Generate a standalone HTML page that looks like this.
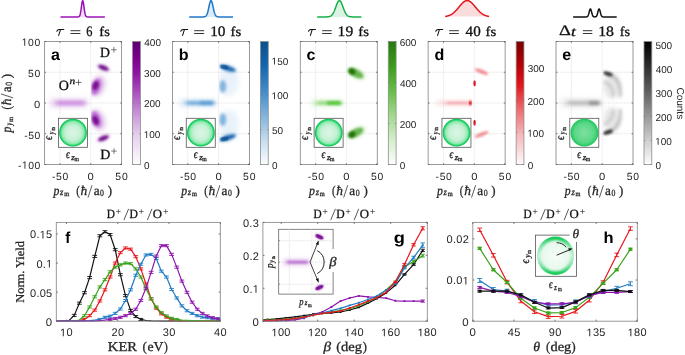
<!DOCTYPE html>
<html><head><meta charset="utf-8"><style>html,body{margin:0;padding:0;background:#fff;width:685px;height:355px;overflow:hidden}svg{display:block;text-rendering:geometricPrecision;will-change:transform}</style></head><body>
<svg width="685" height="355" viewBox="0 0 685 355"><defs>
<linearGradient id="cma" x1="0" y1="0" x2="0" y2="1"><stop offset="0" stop-color="#5c0072"/><stop offset="0.13" stop-color="#7d008f"/><stop offset="0.25" stop-color="#9010a6"/><stop offset="0.38" stop-color="#a540bb"/><stop offset="0.5" stop-color="#ba72cc"/><stop offset="0.63" stop-color="#d0a2de"/><stop offset="0.75" stop-color="#e5caed"/><stop offset="0.88" stop-color="#f3e6f6"/><stop offset="1" stop-color="#fefcfe"/></linearGradient>
<linearGradient id="cmb" x1="0" y1="0" x2="0" y2="1"><stop offset="0" stop-color="#08508f"/><stop offset="0.2" stop-color="#1267b0"/><stop offset="0.4" stop-color="#3f8bcb"/><stop offset="0.6" stop-color="#80b4dd"/><stop offset="0.8" stop-color="#c4dcef"/><stop offset="1" stop-color="#fbfdfe"/></linearGradient>
<linearGradient id="cmc" x1="0" y1="0" x2="0" y2="1"><stop offset="0" stop-color="#28780c"/><stop offset="0.2" stop-color="#3a9d1a"/><stop offset="0.4" stop-color="#66bd46"/><stop offset="0.6" stop-color="#a0d88c"/><stop offset="0.8" stop-color="#d4eecb"/><stop offset="1" stop-color="#fcfefb"/></linearGradient>
<linearGradient id="cmd" x1="0" y1="0" x2="0" y2="1"><stop offset="0" stop-color="#780000"/><stop offset="0.2" stop-color="#bb0008"/><stop offset="0.35" stop-color="#e3131a"/><stop offset="0.55" stop-color="#ee6a6e"/><stop offset="0.75" stop-color="#f6b4b6"/><stop offset="1" stop-color="#fefafa"/></linearGradient>
<linearGradient id="cme" x1="0" y1="0" x2="0" y2="1"><stop offset="0" stop-color="#000000"/><stop offset="0.2" stop-color="#2e2e2e"/><stop offset="0.4" stop-color="#5e5e5e"/><stop offset="0.6" stop-color="#969696"/><stop offset="0.8" stop-color="#cdcdcd"/><stop offset="1" stop-color="#fdfdfd"/></linearGradient>
<filter id="bl0_5" x="-60%" y="-60%" width="220%" height="220%"><feGaussianBlur stdDeviation="0.5"/></filter>
<filter id="bl0_6" x="-60%" y="-60%" width="220%" height="220%"><feGaussianBlur stdDeviation="0.6"/></filter>
<filter id="bl0_7" x="-60%" y="-60%" width="220%" height="220%"><feGaussianBlur stdDeviation="0.7"/></filter>
<filter id="bl0_8" x="-60%" y="-60%" width="220%" height="220%"><feGaussianBlur stdDeviation="0.8"/></filter>
<filter id="bl0_9" x="-60%" y="-60%" width="220%" height="220%"><feGaussianBlur stdDeviation="0.9"/></filter>
<filter id="bl1_0" x="-60%" y="-60%" width="220%" height="220%"><feGaussianBlur stdDeviation="1.0"/></filter>
<filter id="bl1_2" x="-60%" y="-60%" width="220%" height="220%"><feGaussianBlur stdDeviation="1.2"/></filter>
<filter id="bl1_4" x="-60%" y="-60%" width="220%" height="220%"><feGaussianBlur stdDeviation="1.4"/></filter>
<filter id="bl1_6" x="-60%" y="-60%" width="220%" height="220%"><feGaussianBlur stdDeviation="1.6"/></filter>
<filter id="bl2_2" x="-60%" y="-60%" width="220%" height="220%"><feGaussianBlur stdDeviation="2.2"/></filter>
<filter id="bl3_0" x="-60%" y="-60%" width="220%" height="220%"><feGaussianBlur stdDeviation="3.0"/></filter>
<radialGradient id="ring" cx="0.5" cy="0.5" r="0.5"><stop offset="0" stop-color="#dcf6e6"/><stop offset="0.55" stop-color="#c6f1d6"/><stop offset="0.8" stop-color="#8eeab0"/><stop offset="0.91" stop-color="#2cd46e"/><stop offset="1" stop-color="#02bc4c"/></radialGradient>
<radialGradient id="ringe" cx="0.5" cy="0.5" r="0.5"><stop offset="0" stop-color="#7ee0a0"/><stop offset="0.7" stop-color="#5ad888"/><stop offset="0.92" stop-color="#30cc68"/><stop offset="1" stop-color="#18bf55"/></radialGradient>
<filter id="fb2p6_2p6" x="-100%" y="-100%" width="300%" height="300%"><feGaussianBlur stdDeviation="2.6 2.6"/></filter><filter id="fb2p4_1p8" x="-100%" y="-100%" width="300%" height="300%"><feGaussianBlur stdDeviation="2.4 1.8"/></filter><filter id="fb2p2" x="-100%" y="-100%" width="300%" height="300%"><feGaussianBlur stdDeviation="2.2"/></filter><filter id="fb1p6" x="-100%" y="-100%" width="300%" height="300%"><feGaussianBlur stdDeviation="1.6"/></filter><filter id="fb1p3" x="-100%" y="-100%" width="300%" height="300%"><feGaussianBlur stdDeviation="1.3"/></filter><filter id="fb1p0" x="-100%" y="-100%" width="300%" height="300%"><feGaussianBlur stdDeviation="1.0"/></filter><filter id="fb1p4" x="-100%" y="-100%" width="300%" height="300%"><feGaussianBlur stdDeviation="1.4"/></filter><filter id="fb0p8" x="-100%" y="-100%" width="300%" height="300%"><feGaussianBlur stdDeviation="0.8"/></filter><filter id="fb2p2_1p6" x="-100%" y="-100%" width="300%" height="300%"><feGaussianBlur stdDeviation="2.2 1.6"/></filter><filter id="fb1p6_1p4" x="-100%" y="-100%" width="300%" height="300%"><feGaussianBlur stdDeviation="1.6 1.4"/></filter><filter id="fb2p5" x="-100%" y="-100%" width="300%" height="300%"><feGaussianBlur stdDeviation="2.5"/></filter><filter id="fb0p7" x="-100%" y="-100%" width="300%" height="300%"><feGaussianBlur stdDeviation="0.7"/></filter><filter id="fb2p6_2p4" x="-100%" y="-100%" width="300%" height="300%"><feGaussianBlur stdDeviation="2.6 2.4"/></filter><filter id="fb2p6_1p5" x="-100%" y="-100%" width="300%" height="300%"><feGaussianBlur stdDeviation="2.6 1.5"/></filter><filter id="fb1p6_1p3" x="-100%" y="-100%" width="300%" height="300%"><feGaussianBlur stdDeviation="1.6 1.3"/></filter><filter id="fb1p8" x="-100%" y="-100%" width="300%" height="300%"><feGaussianBlur stdDeviation="1.8"/></filter><filter id="fb1p2" x="-100%" y="-100%" width="300%" height="300%"><feGaussianBlur stdDeviation="1.2"/></filter><filter id="fb2p6_2p0" x="-100%" y="-100%" width="300%" height="300%"><feGaussianBlur stdDeviation="2.6 2.0"/></filter><filter id="fb2p0_1p2" x="-100%" y="-100%" width="300%" height="300%"><feGaussianBlur stdDeviation="2.0 1.2"/></filter><filter id="fb0p7_0p8" x="-100%" y="-100%" width="300%" height="300%"><feGaussianBlur stdDeviation="0.7 0.8"/></filter><filter id="fb0p5" x="-100%" y="-100%" width="300%" height="300%"><feGaussianBlur stdDeviation="0.5"/></filter><filter id="fb3_2p6" x="-100%" y="-100%" width="300%" height="300%"><feGaussianBlur stdDeviation="3 2.6"/></filter><filter id="fb2p4_1p6" x="-100%" y="-100%" width="300%" height="300%"><feGaussianBlur stdDeviation="2.4 1.6"/></filter><filter id="fb2p6" x="-100%" y="-100%" width="300%" height="300%"><feGaussianBlur stdDeviation="2.6"/></filter><filter id="fb0p9" x="-100%" y="-100%" width="300%" height="300%"><feGaussianBlur stdDeviation="0.9"/></filter><filter id="fb2p2_2p0" x="-100%" y="-100%" width="300%" height="300%"><feGaussianBlur stdDeviation="2.2 2.0"/></filter><filter id="fb1p8_1p2" x="-100%" y="-100%" width="300%" height="300%"><feGaussianBlur stdDeviation="1.8 1.2"/></filter>
<radialGradient id="ringh" cx="0.5" cy="0.5" r="0.5"><stop offset="0" stop-color="#f6fdf8"/><stop offset="0.75" stop-color="#e6f8ec"/><stop offset="1" stop-color="#bdeecf"/></radialGradient>
<linearGradient id="ringv" x1="0" y1="0" x2="0" y2="1"><stop offset="0" stop-color="#08c850" stop-opacity="1"/><stop offset="0.22" stop-color="#30d470" stop-opacity="0.5"/><stop offset="0.5" stop-color="#60dc90" stop-opacity="0.08"/><stop offset="0.78" stop-color="#30d470" stop-opacity="0.5"/><stop offset="1" stop-color="#08c850" stop-opacity="1"/></linearGradient>
</defs>
<line x1="59.98" y1="41.5" x2="59.98" y2="164.5" stroke="#dedede" stroke-width="0.7" stroke-dasharray="1.3,0.7"/>
<line x1="90.72" y1="41.5" x2="90.72" y2="164.5" stroke="#dedede" stroke-width="0.7" stroke-dasharray="1.3,0.7"/>
<line x1="44.6" y1="72.25" x2="121.6" y2="72.25" stroke="#dedede" stroke-width="0.7" stroke-dasharray="1.3,0.7"/>
<line x1="44.6" y1="103" x2="121.6" y2="103" stroke="#dedede" stroke-width="0.7" stroke-dasharray="1.3,0.7"/>
<line x1="44.6" y1="133.75" x2="121.6" y2="133.75" stroke="#dedede" stroke-width="0.7" stroke-dasharray="1.3,0.7"/>
<clipPath id="rh0"><rect x="91.12" y="41.5" width="30.48" height="123"/></clipPath>
<rect x="50" y="98.4" width="37" height="9.2" fill="#e4caee" fill-opacity="0.65" filter="url(#fb2p6_2p6)"/>
<rect x="56" y="100.4" width="29" height="5.2" fill="#c06cd8" fill-opacity="0.62" filter="url(#fb2p4_1p8)"/>
<g clip-path="url(#rh0)">
<ellipse cx="98" cy="86" rx="8" ry="11.5" fill="#dcb8e8" fill-opacity="0.5" filter="url(#fb2p2)" transform="rotate(22 98 86)"/>
<ellipse cx="96.8" cy="86.5" rx="5.6" ry="9.5" fill="#c07ad6" fill-opacity="0.5" filter="url(#fb1p6)" transform="rotate(22 96.8 86.5)"/>
<ellipse cx="96" cy="86.8" rx="4" ry="8" fill="#a83cc4" fill-opacity="0.55" filter="url(#fb1p3)" transform="rotate(18 96 86.8)"/>
<ellipse cx="95.6" cy="85.6" rx="2.9" ry="4.6" fill="#6a0085" fill-opacity="0.85" filter="url(#fb1p0)" transform="rotate(20 95.6 85.6)"/>
<ellipse cx="103.4" cy="67.8" rx="7.5" ry="3.4" fill="#b868cc" fill-opacity="0.35" filter="url(#fb1p4)" transform="rotate(22 103.4 67.8)"/>
<ellipse cx="103.4" cy="67.8" rx="5.6" ry="2.2" fill="#64007e" fill-opacity="0.9" filter="url(#fb0p8)" transform="rotate(22 103.4 67.8)"/>
<ellipse cx="98" cy="120" rx="8" ry="11.5" fill="#dcb8e8" fill-opacity="0.5" filter="url(#fb2p2)" transform="rotate(-22 98 120)"/>
<ellipse cx="96.8" cy="119.5" rx="5.6" ry="9.5" fill="#c07ad6" fill-opacity="0.5" filter="url(#fb1p6)" transform="rotate(-22 96.8 119.5)"/>
<ellipse cx="96" cy="119.2" rx="4" ry="8" fill="#a83cc4" fill-opacity="0.55" filter="url(#fb1p3)" transform="rotate(-18 96 119.2)"/>
<ellipse cx="95.6" cy="120.4" rx="2.9" ry="4.6" fill="#6a0085" fill-opacity="0.85" filter="url(#fb1p0)" transform="rotate(-20 95.6 120.4)"/>
<ellipse cx="103.4" cy="138.2" rx="7.5" ry="3.4" fill="#b868cc" fill-opacity="0.35" filter="url(#fb1p4)" transform="rotate(-22 103.4 138.2)"/>
<ellipse cx="103.4" cy="138.2" rx="5.6" ry="2.2" fill="#64007e" fill-opacity="0.9" filter="url(#fb0p8)" transform="rotate(-22 103.4 138.2)"/>
</g>
<rect x="58.4" y="118.3" width="29" height="29" fill="#fff" stroke="#555" stroke-width="0.8"/>
<circle cx="73" cy="132.7" r="13.9" fill="url(#ring)"/>
<text x="65.92" y="158.4" font-family="Liberation Serif" font-size="12" font-style="italic" stroke="#262626" stroke-width="0.3" fill="#262626" textLength="3.78" lengthAdjust="spacingAndGlyphs">ϵ</text>
<text x="71.3" y="159.6" font-family="Liberation Serif" font-size="8.5" font-style="italic" stroke="#262626" stroke-width="0.3" fill="#262626" textLength="3.52" lengthAdjust="spacingAndGlyphs">z</text>
<text x="74.38" y="160.7" font-family="Liberation Serif" font-size="6.5" stroke="#262626" stroke-width="0.3" fill="#262626" textLength="4.41" lengthAdjust="spacingAndGlyphs">m</text>
<g transform="translate(52.4 140) rotate(-90)"><text x="0.01" y="0" font-family="Liberation Serif" font-size="12" font-style="italic" stroke="#262626" stroke-width="0.3" fill="#262626" textLength="3.98" lengthAdjust="spacingAndGlyphs">ϵ</text><text x="5.79" y="1.6" font-family="Liberation Serif" font-size="8.5" font-style="italic" stroke="#262626" stroke-width="0.3" fill="#262626" textLength="2.61" lengthAdjust="spacingAndGlyphs">y</text><text x="9.51" y="2.5" font-family="Liberation Serif" font-size="6.5" stroke="#262626" stroke-width="0.3" fill="#262626" textLength="3.25" lengthAdjust="spacingAndGlyphs">m</text></g>
<rect x="44.6" y="41.5" width="77" height="123" fill="none" stroke="#8f8f8f" stroke-width="0.9"/>
<line x1="59.98" y1="164.5" x2="59.98" y2="163.1" stroke="#555" stroke-width="0.8"/>
<line x1="59.98" y1="41.5" x2="59.98" y2="42.9" stroke="#555" stroke-width="0.8"/>
<line x1="90.72" y1="164.5" x2="90.72" y2="163.1" stroke="#555" stroke-width="0.8"/>
<line x1="90.72" y1="41.5" x2="90.72" y2="42.9" stroke="#555" stroke-width="0.8"/>
<line x1="121.47" y1="164.5" x2="121.47" y2="163.1" stroke="#555" stroke-width="0.8"/>
<line x1="121.47" y1="41.5" x2="121.47" y2="42.9" stroke="#555" stroke-width="0.8"/>
<line x1="44.6" y1="41.5" x2="46" y2="41.5" stroke="#555" stroke-width="0.8"/>
<line x1="121.6" y1="41.5" x2="120.2" y2="41.5" stroke="#555" stroke-width="0.8"/>
<line x1="44.6" y1="72.25" x2="46" y2="72.25" stroke="#555" stroke-width="0.8"/>
<line x1="121.6" y1="72.25" x2="120.2" y2="72.25" stroke="#555" stroke-width="0.8"/>
<line x1="44.6" y1="103" x2="46" y2="103" stroke="#555" stroke-width="0.8"/>
<line x1="121.6" y1="103" x2="120.2" y2="103" stroke="#555" stroke-width="0.8"/>
<line x1="44.6" y1="133.75" x2="46" y2="133.75" stroke="#555" stroke-width="0.8"/>
<line x1="121.6" y1="133.75" x2="120.2" y2="133.75" stroke="#555" stroke-width="0.8"/>
<line x1="44.6" y1="164.5" x2="46" y2="164.5" stroke="#555" stroke-width="0.8"/>
<line x1="121.6" y1="164.5" x2="120.2" y2="164.5" stroke="#555" stroke-width="0.8"/>

<text x="52.06" y="179.8" font-family="Liberation Sans" font-size="10.4" fill="#262626" textLength="16.16" lengthAdjust="spacing">-50</text>
<text x="87.6" y="179.8" font-family="Liberation Sans" font-size="10.4" fill="#262626" textLength="6.25" lengthAdjust="spacingAndGlyphs">0</text>
<text x="115.26" y="179.8" font-family="Liberation Sans" font-size="10.4" fill="#262626" textLength="12.43" lengthAdjust="spacing">50</text>
<text x="53.39" y="195" font-family="Liberation Serif" font-size="13.5" font-style="italic" stroke="#262626" stroke-width="0.3" fill="#262626" textLength="5.87" lengthAdjust="spacingAndGlyphs">p</text>
<text x="60" y="194.7" font-family="Liberation Serif" font-size="9.5" font-style="italic" stroke="#262626" stroke-width="0.3" fill="#262626" textLength="3.32" lengthAdjust="spacingAndGlyphs">z</text>
<text x="64.17" y="196.3" font-family="Liberation Serif" font-size="7" stroke="#262626" stroke-width="0.3" fill="#262626" textLength="4.93" lengthAdjust="spacingAndGlyphs">m</text>
<text x="76.32" y="195" font-family="Liberation Serif" font-size="13.5" stroke="#262626" stroke-width="0.3" fill="#262626" textLength="3.63" lengthAdjust="spacingAndGlyphs">(</text>
<text x="80.61" y="195" font-family="Liberation Serif" font-size="13.5" font-style="italic" stroke="#262626" stroke-width="0.3" fill="#262626">ħ</text>
<line x1="88" y1="197.6" x2="92" y2="185.3" stroke="#262626" stroke-width="0.75"/>
<text x="93.64" y="195" font-family="Liberation Serif" font-size="13.5" stroke="#262626" stroke-width="0.3" fill="#262626" textLength="5.84" lengthAdjust="spacingAndGlyphs">a</text>
<text x="100.1" y="196.3" font-family="Liberation Serif" font-size="9.5" stroke="#262626" stroke-width="0.3" fill="#262626" textLength="3.89" lengthAdjust="spacingAndGlyphs">0</text>
<text x="107.69" y="195" font-family="Liberation Serif" font-size="13.5" stroke="#262626" stroke-width="0.3" fill="#262626" textLength="4.28" lengthAdjust="spacingAndGlyphs">)</text>
<rect x="132.6" y="41.5" width="7.8" height="123" fill="url(#cma)" stroke="#8c8c8c" stroke-width="0.8"/>
<text x="144.11" y="168.82" font-family="Liberation Sans" font-size="10" fill="#262626">0</text>
<line x1="132.6" y1="164.5" x2="133.8" y2="164.5" stroke="#666" stroke-width="0.6"/>
<line x1="140.4" y1="164.5" x2="139.2" y2="164.5" stroke="#666" stroke-width="0.6"/>
<text x="143.74" y="138.07" font-family="Liberation Sans" font-size="10" fill="#262626"> 00</text><path transform="translate(143.74 138.07) scale(0.00488 -0.00488)" d="M515,0L515,1237L197,1010L197,1180L530,1409L696,1409L696,0Z" fill="#262626"/>
<line x1="132.6" y1="133.75" x2="133.8" y2="133.75" stroke="#666" stroke-width="0.6"/>
<line x1="140.4" y1="133.75" x2="139.2" y2="133.75" stroke="#666" stroke-width="0.6"/>
<text x="144" y="107.32" font-family="Liberation Sans" font-size="10" fill="#262626">200</text>
<line x1="132.6" y1="103" x2="133.8" y2="103" stroke="#666" stroke-width="0.6"/>
<line x1="140.4" y1="103" x2="139.2" y2="103" stroke="#666" stroke-width="0.6"/>
<text x="144.12" y="76.57" font-family="Liberation Sans" font-size="10" fill="#262626">300</text>
<line x1="132.6" y1="72.25" x2="133.8" y2="72.25" stroke="#666" stroke-width="0.6"/>
<line x1="140.4" y1="72.25" x2="139.2" y2="72.25" stroke="#666" stroke-width="0.6"/>
<text x="144.27" y="45.82" font-family="Liberation Sans" font-size="10" fill="#262626">400</text>
<line x1="132.6" y1="41.5" x2="133.8" y2="41.5" stroke="#666" stroke-width="0.6"/>
<line x1="140.4" y1="41.5" x2="139.2" y2="41.5" stroke="#666" stroke-width="0.6"/>
<line x1="187.82" y1="41.5" x2="187.82" y2="164.5" stroke="#dedede" stroke-width="0.7" stroke-dasharray="1.3,0.7"/>
<line x1="218.57" y1="41.5" x2="218.57" y2="164.5" stroke="#dedede" stroke-width="0.7" stroke-dasharray="1.3,0.7"/>
<line x1="172.45" y1="72.25" x2="249.45" y2="72.25" stroke="#dedede" stroke-width="0.7" stroke-dasharray="1.3,0.7"/>
<line x1="172.45" y1="103" x2="249.45" y2="103" stroke="#dedede" stroke-width="0.7" stroke-dasharray="1.3,0.7"/>
<line x1="172.45" y1="133.75" x2="249.45" y2="133.75" stroke="#dedede" stroke-width="0.7" stroke-dasharray="1.3,0.7"/>
<rect x="180" y="99" width="36" height="8" fill="#c4dcf0" fill-opacity="0.6" filter="url(#fb2p6_2p6)"/>
<rect x="186" y="101" width="28" height="4" fill="#4a96d2" fill-opacity="0.7" filter="url(#fb2p2_1p6)"/>
<rect x="200" y="101.2" width="13" height="3.6" fill="#2a7fc4" fill-opacity="0.45" filter="url(#fb1p6_1p4)"/>
<clipPath id="rh1"><rect x="218.97" y="41.5" width="30.48" height="123"/></clipPath>
<g clip-path="url(#rh1)">
<ellipse cx="229" cy="82" rx="10" ry="14" fill="#c8def2" fill-opacity="0.4" filter="url(#fb2p5)"/>
<ellipse cx="222.8" cy="86.5" rx="3.4" ry="6.4" fill="#3d8bcd" fill-opacity="0.6" filter="url(#fb1p4)"/>
<ellipse cx="228" cy="68.6" rx="10" ry="4.5" fill="#a8cbea" fill-opacity="0.45" filter="url(#fb1p6)" transform="rotate(17 228 68.6)"/>
<ellipse cx="227.6" cy="68.3" rx="8.4" ry="2.5" fill="#0b5aa6" fill-opacity="0.88" filter="url(#fb0p8)" transform="rotate(17 227.6 68.3)"/>
<ellipse cx="224.5" cy="67" rx="4" ry="2.2" fill="#08488a" fill-opacity="0.6" filter="url(#fb0p7)" transform="rotate(10 224.5 67)"/>
<ellipse cx="229" cy="124" rx="10" ry="14" fill="#c8def2" fill-opacity="0.4" filter="url(#fb2p5)"/>
<ellipse cx="222.8" cy="119.5" rx="3.4" ry="6.4" fill="#3d8bcd" fill-opacity="0.6" filter="url(#fb1p4)"/>
<ellipse cx="228" cy="137.4" rx="10" ry="4.5" fill="#a8cbea" fill-opacity="0.45" filter="url(#fb1p6)" transform="rotate(-17 228 137.4)"/>
<ellipse cx="227.6" cy="137.7" rx="8.4" ry="2.5" fill="#0b5aa6" fill-opacity="0.88" filter="url(#fb0p8)" transform="rotate(-17 227.6 137.7)"/>
<ellipse cx="224.5" cy="139" rx="4" ry="2.2" fill="#08488a" fill-opacity="0.6" filter="url(#fb0p7)" transform="rotate(-10 224.5 139)"/>
</g>
<rect x="186.25" y="118.3" width="29" height="29" fill="#fff" stroke="#555" stroke-width="0.8"/>
<circle cx="200.85" cy="132.7" r="13.9" fill="url(#ring)"/>
<text x="193.77" y="158.4" font-family="Liberation Serif" font-size="12" font-style="italic" stroke="#262626" stroke-width="0.3" fill="#262626" textLength="3.78" lengthAdjust="spacingAndGlyphs">ϵ</text>
<text x="199.15" y="159.6" font-family="Liberation Serif" font-size="8.5" font-style="italic" stroke="#262626" stroke-width="0.3" fill="#262626" textLength="3.52" lengthAdjust="spacingAndGlyphs">z</text>
<text x="202.23" y="160.7" font-family="Liberation Serif" font-size="6.5" stroke="#262626" stroke-width="0.3" fill="#262626" textLength="4.41" lengthAdjust="spacingAndGlyphs">m</text>
<g transform="translate(180.25 140) rotate(-90)"><text x="0.01" y="0" font-family="Liberation Serif" font-size="12" font-style="italic" stroke="#262626" stroke-width="0.3" fill="#262626" textLength="3.98" lengthAdjust="spacingAndGlyphs">ϵ</text><text x="5.79" y="1.6" font-family="Liberation Serif" font-size="8.5" font-style="italic" stroke="#262626" stroke-width="0.3" fill="#262626" textLength="2.61" lengthAdjust="spacingAndGlyphs">y</text><text x="9.51" y="2.5" font-family="Liberation Serif" font-size="6.5" stroke="#262626" stroke-width="0.3" fill="#262626" textLength="3.25" lengthAdjust="spacingAndGlyphs">m</text></g>
<rect x="172.45" y="41.5" width="77" height="123" fill="none" stroke="#8f8f8f" stroke-width="0.9"/>
<line x1="187.82" y1="164.5" x2="187.82" y2="163.1" stroke="#555" stroke-width="0.8"/>
<line x1="187.82" y1="41.5" x2="187.82" y2="42.9" stroke="#555" stroke-width="0.8"/>
<line x1="218.57" y1="164.5" x2="218.57" y2="163.1" stroke="#555" stroke-width="0.8"/>
<line x1="218.57" y1="41.5" x2="218.57" y2="42.9" stroke="#555" stroke-width="0.8"/>
<line x1="249.32" y1="164.5" x2="249.32" y2="163.1" stroke="#555" stroke-width="0.8"/>
<line x1="249.32" y1="41.5" x2="249.32" y2="42.9" stroke="#555" stroke-width="0.8"/>
<line x1="172.45" y1="41.5" x2="173.85" y2="41.5" stroke="#555" stroke-width="0.8"/>
<line x1="249.45" y1="41.5" x2="248.05" y2="41.5" stroke="#555" stroke-width="0.8"/>
<line x1="172.45" y1="72.25" x2="173.85" y2="72.25" stroke="#555" stroke-width="0.8"/>
<line x1="249.45" y1="72.25" x2="248.05" y2="72.25" stroke="#555" stroke-width="0.8"/>
<line x1="172.45" y1="103" x2="173.85" y2="103" stroke="#555" stroke-width="0.8"/>
<line x1="249.45" y1="103" x2="248.05" y2="103" stroke="#555" stroke-width="0.8"/>
<line x1="172.45" y1="133.75" x2="173.85" y2="133.75" stroke="#555" stroke-width="0.8"/>
<line x1="249.45" y1="133.75" x2="248.05" y2="133.75" stroke="#555" stroke-width="0.8"/>
<line x1="172.45" y1="164.5" x2="173.85" y2="164.5" stroke="#555" stroke-width="0.8"/>
<line x1="249.45" y1="164.5" x2="248.05" y2="164.5" stroke="#555" stroke-width="0.8"/>

<text x="179.91" y="179.8" font-family="Liberation Sans" font-size="10.4" fill="#262626" textLength="16.16" lengthAdjust="spacing">-50</text>
<text x="215.45" y="179.8" font-family="Liberation Sans" font-size="10.4" fill="#262626" textLength="6.25" lengthAdjust="spacingAndGlyphs">0</text>
<text x="243.11" y="179.8" font-family="Liberation Sans" font-size="10.4" fill="#262626" textLength="12.43" lengthAdjust="spacing">50</text>
<text x="181.24" y="195" font-family="Liberation Serif" font-size="13.5" font-style="italic" stroke="#262626" stroke-width="0.3" fill="#262626" textLength="5.87" lengthAdjust="spacingAndGlyphs">p</text>
<text x="187.85" y="194.7" font-family="Liberation Serif" font-size="9.5" font-style="italic" stroke="#262626" stroke-width="0.3" fill="#262626" textLength="3.32" lengthAdjust="spacingAndGlyphs">z</text>
<text x="192.02" y="196.3" font-family="Liberation Serif" font-size="7" stroke="#262626" stroke-width="0.3" fill="#262626" textLength="4.93" lengthAdjust="spacingAndGlyphs">m</text>
<text x="204.17" y="195" font-family="Liberation Serif" font-size="13.5" stroke="#262626" stroke-width="0.3" fill="#262626" textLength="3.63" lengthAdjust="spacingAndGlyphs">(</text>
<text x="208.46" y="195" font-family="Liberation Serif" font-size="13.5" font-style="italic" stroke="#262626" stroke-width="0.3" fill="#262626">ħ</text>
<line x1="215.85" y1="197.6" x2="219.85" y2="185.3" stroke="#262626" stroke-width="0.75"/>
<text x="221.49" y="195" font-family="Liberation Serif" font-size="13.5" stroke="#262626" stroke-width="0.3" fill="#262626" textLength="5.84" lengthAdjust="spacingAndGlyphs">a</text>
<text x="227.95" y="196.3" font-family="Liberation Serif" font-size="9.5" stroke="#262626" stroke-width="0.3" fill="#262626" textLength="3.89" lengthAdjust="spacingAndGlyphs">0</text>
<text x="235.54" y="195" font-family="Liberation Serif" font-size="13.5" stroke="#262626" stroke-width="0.3" fill="#262626" textLength="4.28" lengthAdjust="spacingAndGlyphs">)</text>
<rect x="260.45" y="41.5" width="7.8" height="123" fill="url(#cmb)" stroke="#8c8c8c" stroke-width="0.8"/>
<text x="271.96" y="168.82" font-family="Liberation Sans" font-size="10" fill="#262626">0</text>
<line x1="260.45" y1="164.5" x2="261.65" y2="164.5" stroke="#666" stroke-width="0.6"/>
<line x1="268.25" y1="164.5" x2="267.05" y2="164.5" stroke="#666" stroke-width="0.6"/>
<text x="271.95" y="134.07" font-family="Liberation Sans" font-size="10" fill="#262626">50</text>
<line x1="260.45" y1="129.75" x2="261.65" y2="129.75" stroke="#666" stroke-width="0.6"/>
<line x1="268.25" y1="129.75" x2="267.05" y2="129.75" stroke="#666" stroke-width="0.6"/>
<text x="271.59" y="99.33" font-family="Liberation Sans" font-size="10" fill="#262626"> 00</text><path transform="translate(271.59 99.33) scale(0.00488 -0.00488)" d="M515,0L515,1237L197,1010L197,1180L530,1409L696,1409L696,0Z" fill="#262626"/>
<line x1="260.45" y1="95.01" x2="261.65" y2="95.01" stroke="#666" stroke-width="0.6"/>
<line x1="268.25" y1="95.01" x2="267.05" y2="95.01" stroke="#666" stroke-width="0.6"/>
<text x="271.59" y="64.58" font-family="Liberation Sans" font-size="10" fill="#262626"> 50</text><path transform="translate(271.59 64.58) scale(0.00488 -0.00488)" d="M515,0L515,1237L197,1010L197,1180L530,1409L696,1409L696,0Z" fill="#262626"/>
<line x1="260.45" y1="60.26" x2="261.65" y2="60.26" stroke="#666" stroke-width="0.6"/>
<line x1="268.25" y1="60.26" x2="267.05" y2="60.26" stroke="#666" stroke-width="0.6"/>
<line x1="315.68" y1="41.5" x2="315.68" y2="164.5" stroke="#dedede" stroke-width="0.7" stroke-dasharray="1.3,0.7"/>
<line x1="346.43" y1="41.5" x2="346.43" y2="164.5" stroke="#dedede" stroke-width="0.7" stroke-dasharray="1.3,0.7"/>
<line x1="300.3" y1="72.25" x2="377.3" y2="72.25" stroke="#dedede" stroke-width="0.7" stroke-dasharray="1.3,0.7"/>
<line x1="300.3" y1="103" x2="377.3" y2="103" stroke="#dedede" stroke-width="0.7" stroke-dasharray="1.3,0.7"/>
<line x1="300.3" y1="133.75" x2="377.3" y2="133.75" stroke="#dedede" stroke-width="0.7" stroke-dasharray="1.3,0.7"/>
<rect x="311" y="99.5" width="31" height="7" fill="#d2f0c8" fill-opacity="0.6" filter="url(#fb2p6_2p4)"/>
<rect x="316" y="101.1" width="25" height="3.8" fill="#78cc5a" fill-opacity="0.7" filter="url(#fb2p6_1p5)"/>
<rect x="327" y="101.2" width="14" height="3.6" fill="#3ec020" fill-opacity="0.75" filter="url(#fb1p6_1p3)"/>
<ellipse cx="356.5" cy="73.5" rx="10.5" ry="5.6" fill="#bfe6b0" fill-opacity="0.5" filter="url(#fb1p8)" transform="rotate(28 356.5 73.5)"/>
<ellipse cx="355.8" cy="73.3" rx="8.2" ry="3.8" fill="#3a9d1a" fill-opacity="0.72" filter="url(#fb1p2)" transform="rotate(28 355.8 73.3)"/>
<ellipse cx="352" cy="71.4" rx="3.6" ry="3" fill="#1b6a06" fill-opacity="0.9" filter="url(#fb0p8)" transform="rotate(28 352 71.4)"/>
<ellipse cx="356.5" cy="132.5" rx="10.5" ry="5.6" fill="#bfe6b0" fill-opacity="0.5" filter="url(#fb1p8)" transform="rotate(-28 356.5 132.5)"/>
<ellipse cx="355.8" cy="132.7" rx="8.2" ry="3.8" fill="#3a9d1a" fill-opacity="0.72" filter="url(#fb1p2)" transform="rotate(-28 355.8 132.7)"/>
<ellipse cx="352" cy="134.6" rx="3.6" ry="3" fill="#1b6a06" fill-opacity="0.9" filter="url(#fb0p8)" transform="rotate(-28 352 134.6)"/>
<rect x="314.1" y="118.3" width="29" height="29" fill="#fff" stroke="#555" stroke-width="0.8"/>
<circle cx="328.7" cy="132.7" r="13.9" fill="url(#ring)"/>
<text x="321.62" y="158.4" font-family="Liberation Serif" font-size="12" font-style="italic" stroke="#262626" stroke-width="0.3" fill="#262626" textLength="3.78" lengthAdjust="spacingAndGlyphs">ϵ</text>
<text x="327" y="159.6" font-family="Liberation Serif" font-size="8.5" font-style="italic" stroke="#262626" stroke-width="0.3" fill="#262626" textLength="3.52" lengthAdjust="spacingAndGlyphs">z</text>
<text x="330.08" y="160.7" font-family="Liberation Serif" font-size="6.5" stroke="#262626" stroke-width="0.3" fill="#262626" textLength="4.41" lengthAdjust="spacingAndGlyphs">m</text>
<g transform="translate(308.1 140) rotate(-90)"><text x="0.01" y="0" font-family="Liberation Serif" font-size="12" font-style="italic" stroke="#262626" stroke-width="0.3" fill="#262626" textLength="3.98" lengthAdjust="spacingAndGlyphs">ϵ</text><text x="5.79" y="1.6" font-family="Liberation Serif" font-size="8.5" font-style="italic" stroke="#262626" stroke-width="0.3" fill="#262626" textLength="2.61" lengthAdjust="spacingAndGlyphs">y</text><text x="9.51" y="2.5" font-family="Liberation Serif" font-size="6.5" stroke="#262626" stroke-width="0.3" fill="#262626" textLength="3.25" lengthAdjust="spacingAndGlyphs">m</text></g>
<rect x="300.3" y="41.5" width="77" height="123" fill="none" stroke="#8f8f8f" stroke-width="0.9"/>
<line x1="315.68" y1="164.5" x2="315.68" y2="163.1" stroke="#555" stroke-width="0.8"/>
<line x1="315.68" y1="41.5" x2="315.68" y2="42.9" stroke="#555" stroke-width="0.8"/>
<line x1="346.43" y1="164.5" x2="346.43" y2="163.1" stroke="#555" stroke-width="0.8"/>
<line x1="346.43" y1="41.5" x2="346.43" y2="42.9" stroke="#555" stroke-width="0.8"/>
<line x1="377.18" y1="164.5" x2="377.18" y2="163.1" stroke="#555" stroke-width="0.8"/>
<line x1="377.18" y1="41.5" x2="377.18" y2="42.9" stroke="#555" stroke-width="0.8"/>
<line x1="300.3" y1="41.5" x2="301.7" y2="41.5" stroke="#555" stroke-width="0.8"/>
<line x1="377.3" y1="41.5" x2="375.9" y2="41.5" stroke="#555" stroke-width="0.8"/>
<line x1="300.3" y1="72.25" x2="301.7" y2="72.25" stroke="#555" stroke-width="0.8"/>
<line x1="377.3" y1="72.25" x2="375.9" y2="72.25" stroke="#555" stroke-width="0.8"/>
<line x1="300.3" y1="103" x2="301.7" y2="103" stroke="#555" stroke-width="0.8"/>
<line x1="377.3" y1="103" x2="375.9" y2="103" stroke="#555" stroke-width="0.8"/>
<line x1="300.3" y1="133.75" x2="301.7" y2="133.75" stroke="#555" stroke-width="0.8"/>
<line x1="377.3" y1="133.75" x2="375.9" y2="133.75" stroke="#555" stroke-width="0.8"/>
<line x1="300.3" y1="164.5" x2="301.7" y2="164.5" stroke="#555" stroke-width="0.8"/>
<line x1="377.3" y1="164.5" x2="375.9" y2="164.5" stroke="#555" stroke-width="0.8"/>

<text x="307.76" y="179.8" font-family="Liberation Sans" font-size="10.4" fill="#262626" textLength="16.16" lengthAdjust="spacing">-50</text>
<text x="343.3" y="179.8" font-family="Liberation Sans" font-size="10.4" fill="#262626" textLength="6.25" lengthAdjust="spacingAndGlyphs">0</text>
<text x="370.96" y="179.8" font-family="Liberation Sans" font-size="10.4" fill="#262626" textLength="12.43" lengthAdjust="spacing">50</text>
<text x="309.09" y="195" font-family="Liberation Serif" font-size="13.5" font-style="italic" stroke="#262626" stroke-width="0.3" fill="#262626" textLength="5.87" lengthAdjust="spacingAndGlyphs">p</text>
<text x="315.7" y="194.7" font-family="Liberation Serif" font-size="9.5" font-style="italic" stroke="#262626" stroke-width="0.3" fill="#262626" textLength="3.32" lengthAdjust="spacingAndGlyphs">z</text>
<text x="319.87" y="196.3" font-family="Liberation Serif" font-size="7" stroke="#262626" stroke-width="0.3" fill="#262626" textLength="4.93" lengthAdjust="spacingAndGlyphs">m</text>
<text x="332.02" y="195" font-family="Liberation Serif" font-size="13.5" stroke="#262626" stroke-width="0.3" fill="#262626" textLength="3.63" lengthAdjust="spacingAndGlyphs">(</text>
<text x="336.31" y="195" font-family="Liberation Serif" font-size="13.5" font-style="italic" stroke="#262626" stroke-width="0.3" fill="#262626">ħ</text>
<line x1="343.7" y1="197.6" x2="347.7" y2="185.3" stroke="#262626" stroke-width="0.75"/>
<text x="349.34" y="195" font-family="Liberation Serif" font-size="13.5" stroke="#262626" stroke-width="0.3" fill="#262626" textLength="5.84" lengthAdjust="spacingAndGlyphs">a</text>
<text x="355.8" y="196.3" font-family="Liberation Serif" font-size="9.5" stroke="#262626" stroke-width="0.3" fill="#262626" textLength="3.89" lengthAdjust="spacingAndGlyphs">0</text>
<text x="363.39" y="195" font-family="Liberation Serif" font-size="13.5" stroke="#262626" stroke-width="0.3" fill="#262626" textLength="4.28" lengthAdjust="spacingAndGlyphs">)</text>
<rect x="388.3" y="41.5" width="7.8" height="123" fill="url(#cmc)" stroke="#8c8c8c" stroke-width="0.8"/>
<text x="399.81" y="168.82" font-family="Liberation Sans" font-size="10" fill="#262626">0</text>
<line x1="388.3" y1="164.5" x2="389.5" y2="164.5" stroke="#666" stroke-width="0.6"/>
<line x1="396.1" y1="164.5" x2="394.9" y2="164.5" stroke="#666" stroke-width="0.6"/>
<text x="399.7" y="127.82" font-family="Liberation Sans" font-size="10" fill="#262626">200</text>
<line x1="388.3" y1="123.5" x2="389.5" y2="123.5" stroke="#666" stroke-width="0.6"/>
<line x1="396.1" y1="123.5" x2="394.9" y2="123.5" stroke="#666" stroke-width="0.6"/>
<text x="399.97" y="86.82" font-family="Liberation Sans" font-size="10" fill="#262626">400</text>
<line x1="388.3" y1="82.5" x2="389.5" y2="82.5" stroke="#666" stroke-width="0.6"/>
<line x1="396.1" y1="82.5" x2="394.9" y2="82.5" stroke="#666" stroke-width="0.6"/>
<text x="399.69" y="45.82" font-family="Liberation Sans" font-size="10" fill="#262626">600</text>
<line x1="388.3" y1="41.5" x2="389.5" y2="41.5" stroke="#666" stroke-width="0.6"/>
<line x1="396.1" y1="41.5" x2="394.9" y2="41.5" stroke="#666" stroke-width="0.6"/>
<line x1="443.52" y1="41.5" x2="443.52" y2="164.5" stroke="#dedede" stroke-width="0.7" stroke-dasharray="1.3,0.7"/>
<line x1="474.27" y1="41.5" x2="474.27" y2="164.5" stroke="#dedede" stroke-width="0.7" stroke-dasharray="1.3,0.7"/>
<line x1="428.15" y1="72.25" x2="505.15" y2="72.25" stroke="#dedede" stroke-width="0.7" stroke-dasharray="1.3,0.7"/>
<line x1="428.15" y1="103" x2="505.15" y2="103" stroke="#dedede" stroke-width="0.7" stroke-dasharray="1.3,0.7"/>
<line x1="428.15" y1="133.75" x2="505.15" y2="133.75" stroke="#dedede" stroke-width="0.7" stroke-dasharray="1.3,0.7"/>
<rect x="437" y="100.4" width="34" height="5.2" fill="#f8cacc" fill-opacity="0.6" filter="url(#fb2p6_2p0)"/>
<rect x="446" y="101.6" width="24" height="2.8" fill="#f08088" fill-opacity="0.55" filter="url(#fb2p0_1p2)"/>
<rect x="468.8" y="101.2" width="3" height="3.6" fill="#d81018" fill-opacity="0.9" filter="url(#fb0p7_0p8)"/>
<ellipse cx="481.5" cy="71.6" rx="7.5" ry="2" fill="#e8454a" fill-opacity="0.6" filter="url(#fb1p0)" transform="rotate(22 481.5 71.6)"/>
<ellipse cx="474.6" cy="83.2" rx="1.2" ry="3" fill="#d5000c" fill-opacity="0.9" filter="url(#fb0p5)"/>
<ellipse cx="474.6" cy="122.8" rx="1.2" ry="3" fill="#d5000c" fill-opacity="0.9" filter="url(#fb0p5)"/>
<ellipse cx="481.5" cy="134.4" rx="7.5" ry="2" fill="#e8454a" fill-opacity="0.6" filter="url(#fb1p0)" transform="rotate(-22 481.5 134.4)"/>
<rect x="441.95" y="118.3" width="29" height="29" fill="#fff" stroke="#555" stroke-width="0.8"/>
<circle cx="456.55" cy="132.7" r="13.9" fill="url(#ring)"/>
<text x="449.47" y="158.4" font-family="Liberation Serif" font-size="12" font-style="italic" stroke="#262626" stroke-width="0.3" fill="#262626" textLength="3.78" lengthAdjust="spacingAndGlyphs">ϵ</text>
<text x="454.85" y="159.6" font-family="Liberation Serif" font-size="8.5" font-style="italic" stroke="#262626" stroke-width="0.3" fill="#262626" textLength="3.52" lengthAdjust="spacingAndGlyphs">z</text>
<text x="457.93" y="160.7" font-family="Liberation Serif" font-size="6.5" stroke="#262626" stroke-width="0.3" fill="#262626" textLength="4.41" lengthAdjust="spacingAndGlyphs">m</text>
<g transform="translate(435.95 140) rotate(-90)"><text x="0.01" y="0" font-family="Liberation Serif" font-size="12" font-style="italic" stroke="#262626" stroke-width="0.3" fill="#262626" textLength="3.98" lengthAdjust="spacingAndGlyphs">ϵ</text><text x="5.79" y="1.6" font-family="Liberation Serif" font-size="8.5" font-style="italic" stroke="#262626" stroke-width="0.3" fill="#262626" textLength="2.61" lengthAdjust="spacingAndGlyphs">y</text><text x="9.51" y="2.5" font-family="Liberation Serif" font-size="6.5" stroke="#262626" stroke-width="0.3" fill="#262626" textLength="3.25" lengthAdjust="spacingAndGlyphs">m</text></g>
<rect x="428.15" y="41.5" width="77" height="123" fill="none" stroke="#8f8f8f" stroke-width="0.9"/>
<line x1="443.52" y1="164.5" x2="443.52" y2="163.1" stroke="#555" stroke-width="0.8"/>
<line x1="443.52" y1="41.5" x2="443.52" y2="42.9" stroke="#555" stroke-width="0.8"/>
<line x1="474.27" y1="164.5" x2="474.27" y2="163.1" stroke="#555" stroke-width="0.8"/>
<line x1="474.27" y1="41.5" x2="474.27" y2="42.9" stroke="#555" stroke-width="0.8"/>
<line x1="505.02" y1="164.5" x2="505.02" y2="163.1" stroke="#555" stroke-width="0.8"/>
<line x1="505.02" y1="41.5" x2="505.02" y2="42.9" stroke="#555" stroke-width="0.8"/>
<line x1="428.15" y1="41.5" x2="429.55" y2="41.5" stroke="#555" stroke-width="0.8"/>
<line x1="505.15" y1="41.5" x2="503.75" y2="41.5" stroke="#555" stroke-width="0.8"/>
<line x1="428.15" y1="72.25" x2="429.55" y2="72.25" stroke="#555" stroke-width="0.8"/>
<line x1="505.15" y1="72.25" x2="503.75" y2="72.25" stroke="#555" stroke-width="0.8"/>
<line x1="428.15" y1="103" x2="429.55" y2="103" stroke="#555" stroke-width="0.8"/>
<line x1="505.15" y1="103" x2="503.75" y2="103" stroke="#555" stroke-width="0.8"/>
<line x1="428.15" y1="133.75" x2="429.55" y2="133.75" stroke="#555" stroke-width="0.8"/>
<line x1="505.15" y1="133.75" x2="503.75" y2="133.75" stroke="#555" stroke-width="0.8"/>
<line x1="428.15" y1="164.5" x2="429.55" y2="164.5" stroke="#555" stroke-width="0.8"/>
<line x1="505.15" y1="164.5" x2="503.75" y2="164.5" stroke="#555" stroke-width="0.8"/>

<text x="435.61" y="179.8" font-family="Liberation Sans" font-size="10.4" fill="#262626" textLength="16.16" lengthAdjust="spacing">-50</text>
<text x="471.15" y="179.8" font-family="Liberation Sans" font-size="10.4" fill="#262626" textLength="6.25" lengthAdjust="spacingAndGlyphs">0</text>
<text x="498.81" y="179.8" font-family="Liberation Sans" font-size="10.4" fill="#262626" textLength="12.43" lengthAdjust="spacing">50</text>
<text x="436.94" y="195" font-family="Liberation Serif" font-size="13.5" font-style="italic" stroke="#262626" stroke-width="0.3" fill="#262626" textLength="5.87" lengthAdjust="spacingAndGlyphs">p</text>
<text x="443.55" y="194.7" font-family="Liberation Serif" font-size="9.5" font-style="italic" stroke="#262626" stroke-width="0.3" fill="#262626" textLength="3.32" lengthAdjust="spacingAndGlyphs">z</text>
<text x="447.72" y="196.3" font-family="Liberation Serif" font-size="7" stroke="#262626" stroke-width="0.3" fill="#262626" textLength="4.93" lengthAdjust="spacingAndGlyphs">m</text>
<text x="459.87" y="195" font-family="Liberation Serif" font-size="13.5" stroke="#262626" stroke-width="0.3" fill="#262626" textLength="3.63" lengthAdjust="spacingAndGlyphs">(</text>
<text x="464.16" y="195" font-family="Liberation Serif" font-size="13.5" font-style="italic" stroke="#262626" stroke-width="0.3" fill="#262626">ħ</text>
<line x1="471.55" y1="197.6" x2="475.55" y2="185.3" stroke="#262626" stroke-width="0.75"/>
<text x="477.19" y="195" font-family="Liberation Serif" font-size="13.5" stroke="#262626" stroke-width="0.3" fill="#262626" textLength="5.84" lengthAdjust="spacingAndGlyphs">a</text>
<text x="483.65" y="196.3" font-family="Liberation Serif" font-size="9.5" stroke="#262626" stroke-width="0.3" fill="#262626" textLength="3.89" lengthAdjust="spacingAndGlyphs">0</text>
<text x="491.24" y="195" font-family="Liberation Serif" font-size="13.5" stroke="#262626" stroke-width="0.3" fill="#262626" textLength="4.28" lengthAdjust="spacingAndGlyphs">)</text>
<rect x="516.15" y="41.5" width="7.8" height="123" fill="url(#cmd)" stroke="#8c8c8c" stroke-width="0.8"/>
<text x="527.66" y="168.82" font-family="Liberation Sans" font-size="10" fill="#262626">0</text>
<line x1="516.15" y1="164.5" x2="517.35" y2="164.5" stroke="#666" stroke-width="0.6"/>
<line x1="523.95" y1="164.5" x2="522.75" y2="164.5" stroke="#666" stroke-width="0.6"/>
<text x="527.29" y="136.71" font-family="Liberation Sans" font-size="10" fill="#262626"> 00</text><path transform="translate(527.29 136.71) scale(0.00488 -0.00488)" d="M515,0L515,1237L197,1010L197,1180L530,1409L696,1409L696,0Z" fill="#262626"/>
<line x1="516.15" y1="132.39" x2="517.35" y2="132.39" stroke="#666" stroke-width="0.6"/>
<line x1="523.95" y1="132.39" x2="522.75" y2="132.39" stroke="#666" stroke-width="0.6"/>
<text x="527.55" y="104.59" font-family="Liberation Sans" font-size="10" fill="#262626">200</text>
<line x1="516.15" y1="100.27" x2="517.35" y2="100.27" stroke="#666" stroke-width="0.6"/>
<line x1="523.95" y1="100.27" x2="522.75" y2="100.27" stroke="#666" stroke-width="0.6"/>
<text x="527.67" y="72.48" font-family="Liberation Sans" font-size="10" fill="#262626">300</text>
<line x1="516.15" y1="68.16" x2="517.35" y2="68.16" stroke="#666" stroke-width="0.6"/>
<line x1="523.95" y1="68.16" x2="522.75" y2="68.16" stroke="#666" stroke-width="0.6"/>
<line x1="571.38" y1="41.5" x2="571.38" y2="164.5" stroke="#dedede" stroke-width="0.7" stroke-dasharray="1.3,0.7"/>
<line x1="602.12" y1="41.5" x2="602.12" y2="164.5" stroke="#dedede" stroke-width="0.7" stroke-dasharray="1.3,0.7"/>
<line x1="556" y1="72.25" x2="633" y2="72.25" stroke="#dedede" stroke-width="0.7" stroke-dasharray="1.3,0.7"/>
<line x1="556" y1="103" x2="633" y2="103" stroke="#dedede" stroke-width="0.7" stroke-dasharray="1.3,0.7"/>
<line x1="556" y1="133.75" x2="633" y2="133.75" stroke="#dedede" stroke-width="0.7" stroke-dasharray="1.3,0.7"/>
<rect x="562" y="98.8" width="39" height="8.4" fill="#d4d4d4" fill-opacity="0.6" filter="url(#fb3_2p6)"/>
<rect x="568" y="101" width="32" height="4" fill="#a4a4a4" fill-opacity="0.6" filter="url(#fb2p4_1p6)"/>
<rect x="589" y="101.2" width="10.5" height="3.6" fill="#6a6a6a" fill-opacity="0.55" filter="url(#fb1p6_1p4)"/>
<clipPath id="rh4"><rect x="602.52" y="41.5" width="30.48" height="123"/></clipPath>
<g clip-path="url(#rh4)">
<ellipse cx="611.5" cy="86" rx="8.5" ry="12.5" fill="#c0c0c0" fill-opacity="0.38" filter="url(#fb2p6)"/>
<path d="M609,74.5 Q622,79 620,97" stroke="#666" stroke-opacity="0.3" stroke-width="3.8" fill="none" filter="url(#bl1_6)"/>
<path d="M603.5,81.5 Q613,84 613.5,97" stroke="#777" stroke-opacity="0.22" stroke-width="3.4" fill="none" filter="url(#bl1_6)"/>
<ellipse cx="608" cy="73.8" rx="4.8" ry="2.1" fill="#1a1a1a" fill-opacity="0.85" filter="url(#fb0p9)" transform="rotate(18 608 73.8)"/>
<ellipse cx="611.5" cy="120" rx="8.5" ry="12.5" fill="#c0c0c0" fill-opacity="0.38" filter="url(#fb2p6)"/>
<path d="M609,131.5 Q622,127 620,109" stroke="#666" stroke-opacity="0.3" stroke-width="3.8" fill="none" filter="url(#bl1_6)"/>
<path d="M603.5,124.5 Q613,122 613.5,109" stroke="#777" stroke-opacity="0.22" stroke-width="3.4" fill="none" filter="url(#bl1_6)"/>
<ellipse cx="608" cy="132.2" rx="4.8" ry="2.1" fill="#1a1a1a" fill-opacity="0.85" filter="url(#fb0p9)" transform="rotate(-18 608 132.2)"/>
</g>
<rect x="569.8" y="118.3" width="29" height="29" fill="#fff" stroke="#555" stroke-width="0.8"/>
<circle cx="584.4" cy="132.7" r="13.9" fill="url(#ringe)"/>
<text x="577.32" y="158.4" font-family="Liberation Serif" font-size="12" font-style="italic" stroke="#262626" stroke-width="0.3" fill="#262626" textLength="3.78" lengthAdjust="spacingAndGlyphs">ϵ</text>
<text x="582.7" y="159.6" font-family="Liberation Serif" font-size="8.5" font-style="italic" stroke="#262626" stroke-width="0.3" fill="#262626" textLength="3.52" lengthAdjust="spacingAndGlyphs">z</text>
<text x="585.78" y="160.7" font-family="Liberation Serif" font-size="6.5" stroke="#262626" stroke-width="0.3" fill="#262626" textLength="4.41" lengthAdjust="spacingAndGlyphs">m</text>
<g transform="translate(563.8 140) rotate(-90)"><text x="0.01" y="0" font-family="Liberation Serif" font-size="12" font-style="italic" stroke="#262626" stroke-width="0.3" fill="#262626" textLength="3.98" lengthAdjust="spacingAndGlyphs">ϵ</text><text x="5.79" y="1.6" font-family="Liberation Serif" font-size="8.5" font-style="italic" stroke="#262626" stroke-width="0.3" fill="#262626" textLength="2.61" lengthAdjust="spacingAndGlyphs">y</text><text x="9.51" y="2.5" font-family="Liberation Serif" font-size="6.5" stroke="#262626" stroke-width="0.3" fill="#262626" textLength="3.25" lengthAdjust="spacingAndGlyphs">m</text></g>
<rect x="556" y="41.5" width="77" height="123" fill="none" stroke="#8f8f8f" stroke-width="0.9"/>
<line x1="571.38" y1="164.5" x2="571.38" y2="163.1" stroke="#555" stroke-width="0.8"/>
<line x1="571.38" y1="41.5" x2="571.38" y2="42.9" stroke="#555" stroke-width="0.8"/>
<line x1="602.12" y1="164.5" x2="602.12" y2="163.1" stroke="#555" stroke-width="0.8"/>
<line x1="602.12" y1="41.5" x2="602.12" y2="42.9" stroke="#555" stroke-width="0.8"/>
<line x1="632.88" y1="164.5" x2="632.88" y2="163.1" stroke="#555" stroke-width="0.8"/>
<line x1="632.88" y1="41.5" x2="632.88" y2="42.9" stroke="#555" stroke-width="0.8"/>
<line x1="556" y1="41.5" x2="557.4" y2="41.5" stroke="#555" stroke-width="0.8"/>
<line x1="633" y1="41.5" x2="631.6" y2="41.5" stroke="#555" stroke-width="0.8"/>
<line x1="556" y1="72.25" x2="557.4" y2="72.25" stroke="#555" stroke-width="0.8"/>
<line x1="633" y1="72.25" x2="631.6" y2="72.25" stroke="#555" stroke-width="0.8"/>
<line x1="556" y1="103" x2="557.4" y2="103" stroke="#555" stroke-width="0.8"/>
<line x1="633" y1="103" x2="631.6" y2="103" stroke="#555" stroke-width="0.8"/>
<line x1="556" y1="133.75" x2="557.4" y2="133.75" stroke="#555" stroke-width="0.8"/>
<line x1="633" y1="133.75" x2="631.6" y2="133.75" stroke="#555" stroke-width="0.8"/>
<line x1="556" y1="164.5" x2="557.4" y2="164.5" stroke="#555" stroke-width="0.8"/>
<line x1="633" y1="164.5" x2="631.6" y2="164.5" stroke="#555" stroke-width="0.8"/>

<text x="563.46" y="179.8" font-family="Liberation Sans" font-size="10.4" fill="#262626" textLength="16.16" lengthAdjust="spacing">-50</text>
<text x="599" y="179.8" font-family="Liberation Sans" font-size="10.4" fill="#262626" textLength="6.25" lengthAdjust="spacingAndGlyphs">0</text>
<text x="626.66" y="179.8" font-family="Liberation Sans" font-size="10.4" fill="#262626" textLength="12.43" lengthAdjust="spacing">50</text>
<text x="564.79" y="195" font-family="Liberation Serif" font-size="13.5" font-style="italic" stroke="#262626" stroke-width="0.3" fill="#262626" textLength="5.87" lengthAdjust="spacingAndGlyphs">p</text>
<text x="571.4" y="194.7" font-family="Liberation Serif" font-size="9.5" font-style="italic" stroke="#262626" stroke-width="0.3" fill="#262626" textLength="3.32" lengthAdjust="spacingAndGlyphs">z</text>
<text x="575.57" y="196.3" font-family="Liberation Serif" font-size="7" stroke="#262626" stroke-width="0.3" fill="#262626" textLength="4.93" lengthAdjust="spacingAndGlyphs">m</text>
<text x="587.72" y="195" font-family="Liberation Serif" font-size="13.5" stroke="#262626" stroke-width="0.3" fill="#262626" textLength="3.63" lengthAdjust="spacingAndGlyphs">(</text>
<text x="592.01" y="195" font-family="Liberation Serif" font-size="13.5" font-style="italic" stroke="#262626" stroke-width="0.3" fill="#262626">ħ</text>
<line x1="599.4" y1="197.6" x2="603.4" y2="185.3" stroke="#262626" stroke-width="0.75"/>
<text x="605.04" y="195" font-family="Liberation Serif" font-size="13.5" stroke="#262626" stroke-width="0.3" fill="#262626" textLength="5.84" lengthAdjust="spacingAndGlyphs">a</text>
<text x="611.5" y="196.3" font-family="Liberation Serif" font-size="9.5" stroke="#262626" stroke-width="0.3" fill="#262626" textLength="3.89" lengthAdjust="spacingAndGlyphs">0</text>
<text x="619.09" y="195" font-family="Liberation Serif" font-size="13.5" stroke="#262626" stroke-width="0.3" fill="#262626" textLength="4.28" lengthAdjust="spacingAndGlyphs">)</text>
<rect x="644" y="41.5" width="7.8" height="123" fill="url(#cme)" stroke="#8c8c8c" stroke-width="0.8"/>
<text x="655.51" y="168.82" font-family="Liberation Sans" font-size="10" fill="#262626">0</text>
<line x1="644" y1="164.5" x2="645.2" y2="164.5" stroke="#666" stroke-width="0.6"/>
<line x1="651.8" y1="164.5" x2="650.6" y2="164.5" stroke="#666" stroke-width="0.6"/>
<text x="655.14" y="144.8" font-family="Liberation Sans" font-size="10" fill="#262626"> 00</text><path transform="translate(655.14 144.8) scale(0.00488 -0.00488)" d="M515,0L515,1237L197,1010L197,1180L530,1409L696,1409L696,0Z" fill="#262626"/>
<line x1="644" y1="140.48" x2="645.2" y2="140.48" stroke="#666" stroke-width="0.6"/>
<line x1="651.8" y1="140.48" x2="650.6" y2="140.48" stroke="#666" stroke-width="0.6"/>
<text x="655.4" y="120.77" font-family="Liberation Sans" font-size="10" fill="#262626">200</text>
<line x1="644" y1="116.45" x2="645.2" y2="116.45" stroke="#666" stroke-width="0.6"/>
<line x1="651.8" y1="116.45" x2="650.6" y2="116.45" stroke="#666" stroke-width="0.6"/>
<text x="655.52" y="96.75" font-family="Liberation Sans" font-size="10" fill="#262626">300</text>
<line x1="644" y1="92.43" x2="645.2" y2="92.43" stroke="#666" stroke-width="0.6"/>
<line x1="651.8" y1="92.43" x2="650.6" y2="92.43" stroke="#666" stroke-width="0.6"/>
<text x="655.67" y="72.73" font-family="Liberation Sans" font-size="10" fill="#262626">400</text>
<line x1="644" y1="68.41" x2="645.2" y2="68.41" stroke="#666" stroke-width="0.6"/>
<line x1="651.8" y1="68.41" x2="650.6" y2="68.41" stroke="#666" stroke-width="0.6"/>
<text x="655.5" y="48.7" font-family="Liberation Sans" font-size="10" fill="#262626">500</text>
<line x1="644" y1="44.38" x2="645.2" y2="44.38" stroke="#666" stroke-width="0.6"/>
<line x1="651.8" y1="44.38" x2="650.6" y2="44.38" stroke="#666" stroke-width="0.6"/>
<text x="50.9" y="59.7" font-family="Liberation Sans" font-size="16" font-weight="bold" fill="#000">a</text>
<text x="178.75" y="59.7" font-family="Liberation Sans" font-size="16" font-weight="bold" fill="#000">b</text>
<text x="306.6" y="59.7" font-family="Liberation Sans" font-size="16" font-weight="bold" fill="#000">c</text>
<text x="434.45" y="59.7" font-family="Liberation Sans" font-size="16" font-weight="bold" fill="#000">d</text>
<text x="562.3" y="59.7" font-family="Liberation Sans" font-size="16" font-weight="bold" fill="#000">e</text>
<text x="58.63" y="89.5" font-family="Liberation Serif" font-size="14" stroke="#111" stroke-width="0.3" fill="#111">O</text>
<text x="69.4" y="84.3" font-family="Liberation Serif" font-size="9.5" font-style="italic" stroke="#111" stroke-width="0.3" fill="#111" textLength="5.68" lengthAdjust="spacingAndGlyphs">n</text>
<line x1="75.55" y1="82.45" x2="81.55" y2="82.45" stroke="#333" stroke-width="0.7"/>
<line x1="78.55" y1="79.45" x2="78.55" y2="85.45" stroke="#333" stroke-width="0.7"/>
<text x="99.95" y="57.3" font-family="Liberation Serif" font-size="14" stroke="#111" stroke-width="0.3" fill="#111" textLength="10" lengthAdjust="spacingAndGlyphs">D</text>
<line x1="111.1" y1="49.75" x2="116.7" y2="49.75" stroke="#444" stroke-width="0.7"/>
<line x1="113.9" y1="46.95" x2="113.9" y2="52.55" stroke="#444" stroke-width="0.7"/>
<text x="100.2" y="158.6" font-family="Liberation Serif" font-size="14" stroke="#111" stroke-width="0.3" fill="#111">D</text>
<line x1="111.2" y1="151.1" x2="116.8" y2="151.1" stroke="#444" stroke-width="0.7"/>
<line x1="114" y1="148.3" x2="114" y2="153.9" stroke="#444" stroke-width="0.7"/>
<text x="21.66" y="45.72" font-family="Liberation Sans" font-size="10.4" fill="#262626" textLength="18.64" lengthAdjust="spacing"> 00</text><path transform="translate(21.66 45.72) scale(0.00508 -0.00508)" d="M515,0L515,1237L197,1010L197,1180L530,1409L696,1409L696,0Z" fill="#262626"/>
<text x="27.88" y="77.02" font-family="Liberation Sans" font-size="10.4" fill="#262626" textLength="12.43" lengthAdjust="spacing">50</text>
<text x="34.09" y="107.92" font-family="Liberation Sans" font-size="10.4" fill="#262626" textLength="6.25" lengthAdjust="spacingAndGlyphs">0</text>
<text x="24.14" y="139.12" font-family="Liberation Sans" font-size="10.4" fill="#262626" textLength="16.16" lengthAdjust="spacing">-50</text>
<text x="17.9" y="168.72" font-family="Liberation Sans" font-size="10.4" fill="#262626" textLength="22.41" lengthAdjust="spacing">- 00</text><path transform="translate(21.89 168.72) scale(0.00508 -0.00508)" d="M515,0L515,1237L197,1010L197,1180L530,1409L696,1409L696,0Z" fill="#262626"/>
<g transform="translate(10.6 133.5) rotate(-90)"><text x="0.99" y="0" font-family="Liberation Serif" font-size="13.5" font-style="italic" stroke="#262626" stroke-width="0.3" fill="#262626" textLength="5.87" lengthAdjust="spacingAndGlyphs">p</text><text x="8.02" y="1" font-family="Liberation Serif" font-size="9.5" font-style="italic" stroke="#262626" stroke-width="0.3" fill="#262626" textLength="2.77" lengthAdjust="spacingAndGlyphs">y</text><text x="11.77" y="2.3" font-family="Liberation Serif" font-size="7" stroke="#262626" stroke-width="0.3" fill="#262626" textLength="4.93" lengthAdjust="spacingAndGlyphs">m</text><text x="23.92" y="0" font-family="Liberation Serif" font-size="13.5" stroke="#262626" stroke-width="0.3" fill="#262626" textLength="3.63" lengthAdjust="spacingAndGlyphs">(</text><text x="28.21" y="0" font-family="Liberation Serif" font-size="13.5" font-style="italic" stroke="#262626" stroke-width="0.3" fill="#262626">ħ</text><line x1="35.6" y1="2.6" x2="39.6" y2="-9.7" stroke="#262626" stroke-width="0.75"/><text x="41.24" y="0" font-family="Liberation Serif" font-size="13.5" stroke="#262626" stroke-width="0.3" fill="#262626" textLength="5.84" lengthAdjust="spacingAndGlyphs">a</text><text x="47.7" y="1.3" font-family="Liberation Serif" font-size="9.5" stroke="#262626" stroke-width="0.3" fill="#262626" textLength="3.89" lengthAdjust="spacingAndGlyphs">0</text><text x="55.29" y="0" font-family="Liberation Serif" font-size="13.5" stroke="#262626" stroke-width="0.3" fill="#262626" textLength="4.28" lengthAdjust="spacingAndGlyphs">)</text></g>
<g transform="translate(677.4 103.35) rotate(90)"><text x="-15.92" y="0" font-family="Liberation Sans" font-size="10" fill="#262626">Counts</text></g>
<path d="M60.5,16.9 L60.87,16.9 L61.24,16.9 L61.61,16.9 L61.98,16.9 L62.35,16.9 L62.72,16.9 L63.09,16.9 L63.46,16.9 L63.83,16.9 L64.2,16.9 L64.57,16.9 L64.94,16.9 L65.31,16.9 L65.68,16.9 L66.05,16.9 L66.42,16.9 L66.79,16.9 L67.16,16.9 L67.53,16.9 L67.9,16.9 L68.27,16.9 L68.64,16.9 L69.01,16.9 L69.38,16.9 L69.75,16.9 L70.12,16.9 L70.49,16.9 L70.86,16.9 L71.23,16.9 L71.6,16.9 L71.97,16.9 L72.34,16.9 L72.71,16.9 L73.08,16.9 L73.45,16.9 L73.82,16.9 L74.19,16.9 L74.56,16.9 L74.93,16.9 L75.3,16.9 L75.67,16.9 L76.04,16.9 L76.41,16.9 L76.78,16.9 L77.15,16.9 L77.52,16.89 L77.89,16.88 L78.26,16.85 L78.63,16.78 L79,16.62 L79.37,16.29 L79.74,15.68 L80.11,14.66 L80.48,13.11 L80.85,10.98 L81.22,8.37 L81.59,5.58 L81.96,3.04 L82.33,1.25 L82.7,0.6 L83.07,1.25 L83.44,3.04 L83.81,5.58 L84.18,8.37 L84.55,10.98 L84.92,13.11 L85.29,14.66 L85.66,15.68 L86.03,16.29 L86.4,16.62 L86.77,16.78 L87.14,16.85 L87.51,16.88 L87.88,16.89 L88.25,16.9 L88.62,16.9 L88.99,16.9 L89.36,16.9 L89.73,16.9 L90.1,16.9 L90.47,16.9 L90.84,16.9 L91.21,16.9 L91.58,16.9 L91.95,16.9 L92.32,16.9 L92.69,16.9 L93.06,16.9 L93.43,16.9 L93.8,16.9 L94.17,16.9 L94.54,16.9 L94.91,16.9 L95.28,16.9 L95.65,16.9 L96.02,16.9 L96.39,16.9 L96.76,16.9 L97.13,16.9 L97.5,16.9 L97.87,16.9 L98.24,16.9 L98.61,16.9 L98.98,16.9 L99.35,16.9 L99.72,16.9 L100.09,16.9 L100.46,16.9 L100.83,16.9 L101.2,16.9 L101.57,16.9 L101.94,16.9 L102.31,16.9 L102.68,16.9 L103.05,16.9 L103.42,16.9 L103.79,16.9 L104.16,16.9 L104.53,16.9 L104.9,16.9 Z" fill="#f1dcf5" stroke="none"/>
<path d="M60.5,16.9 L60.87,16.9 L61.24,16.9 L61.61,16.9 L61.98,16.9 L62.35,16.9 L62.72,16.9 L63.09,16.9 L63.46,16.9 L63.83,16.9 L64.2,16.9 L64.57,16.9 L64.94,16.9 L65.31,16.9 L65.68,16.9 L66.05,16.9 L66.42,16.9 L66.79,16.9 L67.16,16.9 L67.53,16.9 L67.9,16.9 L68.27,16.9 L68.64,16.9 L69.01,16.9 L69.38,16.9 L69.75,16.9 L70.12,16.9 L70.49,16.9 L70.86,16.9 L71.23,16.9 L71.6,16.9 L71.97,16.9 L72.34,16.9 L72.71,16.9 L73.08,16.9 L73.45,16.9 L73.82,16.9 L74.19,16.9 L74.56,16.9 L74.93,16.9 L75.3,16.9 L75.67,16.9 L76.04,16.9 L76.41,16.9 L76.78,16.9 L77.15,16.9 L77.52,16.89 L77.89,16.88 L78.26,16.85 L78.63,16.78 L79,16.62 L79.37,16.29 L79.74,15.68 L80.11,14.66 L80.48,13.11 L80.85,10.98 L81.22,8.37 L81.59,5.58 L81.96,3.04 L82.33,1.25 L82.7,0.6 L83.07,1.25 L83.44,3.04 L83.81,5.58 L84.18,8.37 L84.55,10.98 L84.92,13.11 L85.29,14.66 L85.66,15.68 L86.03,16.29 L86.4,16.62 L86.77,16.78 L87.14,16.85 L87.51,16.88 L87.88,16.89 L88.25,16.9 L88.62,16.9 L88.99,16.9 L89.36,16.9 L89.73,16.9 L90.1,16.9 L90.47,16.9 L90.84,16.9 L91.21,16.9 L91.58,16.9 L91.95,16.9 L92.32,16.9 L92.69,16.9 L93.06,16.9 L93.43,16.9 L93.8,16.9 L94.17,16.9 L94.54,16.9 L94.91,16.9 L95.28,16.9 L95.65,16.9 L96.02,16.9 L96.39,16.9 L96.76,16.9 L97.13,16.9 L97.5,16.9 L97.87,16.9 L98.24,16.9 L98.61,16.9 L98.98,16.9 L99.35,16.9 L99.72,16.9 L100.09,16.9 L100.46,16.9 L100.83,16.9 L101.2,16.9 L101.57,16.9 L101.94,16.9 L102.31,16.9 L102.68,16.9 L103.05,16.9 L103.42,16.9 L103.79,16.9 L104.16,16.9 L104.53,16.9 L104.9,16.9" fill="none" stroke="#9a12b4" stroke-width="1.5" stroke-linejoin="round"/>
<path d="M189.2,16.9 L189.56,16.9 L189.93,16.9 L190.29,16.9 L190.66,16.9 L191.02,16.9 L191.39,16.9 L191.75,16.9 L192.12,16.9 L192.48,16.9 L192.85,16.9 L193.22,16.9 L193.58,16.9 L193.94,16.9 L194.31,16.9 L194.67,16.9 L195.04,16.9 L195.41,16.9 L195.77,16.9 L196.13,16.9 L196.5,16.9 L196.86,16.9 L197.23,16.9 L197.59,16.9 L197.96,16.9 L198.32,16.9 L198.69,16.9 L199.05,16.9 L199.42,16.9 L199.78,16.9 L200.15,16.9 L200.51,16.9 L200.88,16.9 L201.25,16.9 L201.61,16.9 L201.97,16.9 L202.34,16.9 L202.7,16.89 L203.07,16.89 L203.44,16.88 L203.8,16.85 L204.16,16.82 L204.53,16.76 L204.89,16.66 L205.26,16.51 L205.62,16.28 L205.99,15.95 L206.35,15.49 L206.72,14.86 L207.08,14.03 L207.45,12.99 L207.81,11.74 L208.18,10.28 L208.54,8.67 L208.91,6.97 L209.27,5.27 L209.64,3.68 L210,2.33 L210.37,1.32 L210.73,0.73 L211.1,0.62 L211.47,0.99 L211.83,1.82 L212.19,3.04 L212.56,4.53 L212.93,6.19 L213.29,7.91 L213.66,9.57 L214.02,11.1 L214.38,12.45 L214.75,13.59 L215.12,14.51 L215.48,15.23 L215.84,15.76 L216.21,16.15 L216.57,16.42 L216.94,16.6 L217.31,16.72 L217.67,16.79 L218.03,16.84 L218.4,16.87 L218.76,16.88 L219.13,16.89 L219.5,16.9 L219.86,16.9 L220.22,16.9 L220.59,16.9 L220.95,16.9 L221.32,16.9 L221.69,16.9 L222.05,16.9 L222.41,16.9 L222.78,16.9 L223.14,16.9 L223.51,16.9 L223.88,16.9 L224.24,16.9 L224.6,16.9 L224.97,16.9 L225.33,16.9 L225.7,16.9 L226.06,16.9 L226.43,16.9 L226.8,16.9 L227.16,16.9 L227.53,16.9 L227.89,16.9 L228.25,16.9 L228.62,16.9 L228.99,16.9 L229.35,16.9 L229.72,16.9 L230.08,16.9 L230.44,16.9 L230.81,16.9 L231.18,16.9 L231.54,16.9 L231.91,16.9 L232.27,16.9 L232.63,16.9 L233,16.9 Z" fill="#dcebf7" stroke="none"/>
<path d="M189.2,16.9 L189.56,16.9 L189.93,16.9 L190.29,16.9 L190.66,16.9 L191.02,16.9 L191.39,16.9 L191.75,16.9 L192.12,16.9 L192.48,16.9 L192.85,16.9 L193.22,16.9 L193.58,16.9 L193.94,16.9 L194.31,16.9 L194.67,16.9 L195.04,16.9 L195.41,16.9 L195.77,16.9 L196.13,16.9 L196.5,16.9 L196.86,16.9 L197.23,16.9 L197.59,16.9 L197.96,16.9 L198.32,16.9 L198.69,16.9 L199.05,16.9 L199.42,16.9 L199.78,16.9 L200.15,16.9 L200.51,16.9 L200.88,16.9 L201.25,16.9 L201.61,16.9 L201.97,16.9 L202.34,16.9 L202.7,16.89 L203.07,16.89 L203.44,16.88 L203.8,16.85 L204.16,16.82 L204.53,16.76 L204.89,16.66 L205.26,16.51 L205.62,16.28 L205.99,15.95 L206.35,15.49 L206.72,14.86 L207.08,14.03 L207.45,12.99 L207.81,11.74 L208.18,10.28 L208.54,8.67 L208.91,6.97 L209.27,5.27 L209.64,3.68 L210,2.33 L210.37,1.32 L210.73,0.73 L211.1,0.62 L211.47,0.99 L211.83,1.82 L212.19,3.04 L212.56,4.53 L212.93,6.19 L213.29,7.91 L213.66,9.57 L214.02,11.1 L214.38,12.45 L214.75,13.59 L215.12,14.51 L215.48,15.23 L215.84,15.76 L216.21,16.15 L216.57,16.42 L216.94,16.6 L217.31,16.72 L217.67,16.79 L218.03,16.84 L218.4,16.87 L218.76,16.88 L219.13,16.89 L219.5,16.9 L219.86,16.9 L220.22,16.9 L220.59,16.9 L220.95,16.9 L221.32,16.9 L221.69,16.9 L222.05,16.9 L222.41,16.9 L222.78,16.9 L223.14,16.9 L223.51,16.9 L223.88,16.9 L224.24,16.9 L224.6,16.9 L224.97,16.9 L225.33,16.9 L225.7,16.9 L226.06,16.9 L226.43,16.9 L226.8,16.9 L227.16,16.9 L227.53,16.9 L227.89,16.9 L228.25,16.9 L228.62,16.9 L228.99,16.9 L229.35,16.9 L229.72,16.9 L230.08,16.9 L230.44,16.9 L230.81,16.9 L231.18,16.9 L231.54,16.9 L231.91,16.9 L232.27,16.9 L232.63,16.9 L233,16.9" fill="none" stroke="#1f78c8" stroke-width="1.5" stroke-linejoin="round"/>
<path d="M317.2,16.9 L317.57,16.9 L317.94,16.9 L318.31,16.9 L318.67,16.9 L319.04,16.9 L319.41,16.9 L319.78,16.9 L320.15,16.9 L320.51,16.9 L320.88,16.9 L321.25,16.9 L321.62,16.9 L321.99,16.9 L322.36,16.9 L322.72,16.9 L323.09,16.9 L323.46,16.9 L323.83,16.9 L324.2,16.9 L324.57,16.9 L324.94,16.89 L325.3,16.89 L325.67,16.89 L326.04,16.88 L326.41,16.88 L326.78,16.87 L327.14,16.85 L327.51,16.83 L327.88,16.8 L328.25,16.77 L328.62,16.72 L328.99,16.65 L329.35,16.57 L329.72,16.46 L330.09,16.32 L330.46,16.15 L330.83,15.94 L331.2,15.68 L331.56,15.37 L331.93,15 L332.3,14.57 L332.67,14.06 L333.04,13.48 L333.41,12.82 L333.77,12.09 L334.14,11.29 L334.51,10.42 L334.88,9.49 L335.25,8.52 L335.62,7.52 L335.98,6.51 L336.35,5.51 L336.72,4.54 L337.09,3.63 L337.46,2.81 L337.83,2.08 L338.19,1.49 L338.56,1.03 L338.93,0.74 L339.3,0.61 L339.67,0.65 L340.04,0.85 L340.4,1.22 L340.77,1.74 L341.14,2.4 L341.51,3.17 L341.88,4.04 L342.25,4.98 L342.62,5.96 L342.98,6.97 L343.35,7.98 L343.72,8.97 L344.09,9.92 L344.46,10.82 L344.82,11.66 L345.19,12.43 L345.56,13.13 L345.93,13.75 L346.3,14.3 L346.67,14.77 L347.03,15.18 L347.4,15.52 L347.77,15.81 L348.14,16.04 L348.51,16.24 L348.88,16.39 L349.25,16.51 L349.61,16.61 L349.98,16.68 L350.35,16.74 L350.72,16.78 L351.09,16.82 L351.45,16.84 L351.82,16.86 L352.19,16.87 L352.56,16.88 L352.93,16.89 L353.3,16.89 L353.66,16.89 L354.03,16.9 L354.4,16.9 L354.77,16.9 L355.14,16.9 L355.51,16.9 L355.88,16.9 L356.24,16.9 L356.61,16.9 L356.98,16.9 L357.35,16.9 L357.72,16.9 L358.08,16.9 L358.45,16.9 L358.82,16.9 L359.19,16.9 L359.56,16.9 L359.93,16.9 L360.29,16.9 L360.66,16.9 L361.03,16.9 L361.4,16.9 Z" fill="#dcf3e3" stroke="none"/>
<path d="M317.2,16.9 L317.57,16.9 L317.94,16.9 L318.31,16.9 L318.67,16.9 L319.04,16.9 L319.41,16.9 L319.78,16.9 L320.15,16.9 L320.51,16.9 L320.88,16.9 L321.25,16.9 L321.62,16.9 L321.99,16.9 L322.36,16.9 L322.72,16.9 L323.09,16.9 L323.46,16.9 L323.83,16.9 L324.2,16.9 L324.57,16.9 L324.94,16.89 L325.3,16.89 L325.67,16.89 L326.04,16.88 L326.41,16.88 L326.78,16.87 L327.14,16.85 L327.51,16.83 L327.88,16.8 L328.25,16.77 L328.62,16.72 L328.99,16.65 L329.35,16.57 L329.72,16.46 L330.09,16.32 L330.46,16.15 L330.83,15.94 L331.2,15.68 L331.56,15.37 L331.93,15 L332.3,14.57 L332.67,14.06 L333.04,13.48 L333.41,12.82 L333.77,12.09 L334.14,11.29 L334.51,10.42 L334.88,9.49 L335.25,8.52 L335.62,7.52 L335.98,6.51 L336.35,5.51 L336.72,4.54 L337.09,3.63 L337.46,2.81 L337.83,2.08 L338.19,1.49 L338.56,1.03 L338.93,0.74 L339.3,0.61 L339.67,0.65 L340.04,0.85 L340.4,1.22 L340.77,1.74 L341.14,2.4 L341.51,3.17 L341.88,4.04 L342.25,4.98 L342.62,5.96 L342.98,6.97 L343.35,7.98 L343.72,8.97 L344.09,9.92 L344.46,10.82 L344.82,11.66 L345.19,12.43 L345.56,13.13 L345.93,13.75 L346.3,14.3 L346.67,14.77 L347.03,15.18 L347.4,15.52 L347.77,15.81 L348.14,16.04 L348.51,16.24 L348.88,16.39 L349.25,16.51 L349.61,16.61 L349.98,16.68 L350.35,16.74 L350.72,16.78 L351.09,16.82 L351.45,16.84 L351.82,16.86 L352.19,16.87 L352.56,16.88 L352.93,16.89 L353.3,16.89 L353.66,16.89 L354.03,16.9 L354.4,16.9 L354.77,16.9 L355.14,16.9 L355.51,16.9 L355.88,16.9 L356.24,16.9 L356.61,16.9 L356.98,16.9 L357.35,16.9 L357.72,16.9 L358.08,16.9 L358.45,16.9 L358.82,16.9 L359.19,16.9 L359.56,16.9 L359.93,16.9 L360.29,16.9 L360.66,16.9 L361.03,16.9 L361.4,16.9" fill="none" stroke="#18b04a" stroke-width="1.5" stroke-linejoin="round"/>
<path d="M445.2,16.45 L445.57,16.4 L445.93,16.34 L446.3,16.27 L446.66,16.19 L447.03,16.11 L447.39,16.02 L447.76,15.92 L448.13,15.81 L448.49,15.69 L448.86,15.56 L449.22,15.43 L449.59,15.28 L449.96,15.11 L450.32,14.94 L450.69,14.75 L451.05,14.55 L451.42,14.34 L451.78,14.12 L452.15,13.87 L452.52,13.62 L452.88,13.35 L453.25,13.07 L453.61,12.77 L453.98,12.46 L454.35,12.13 L454.71,11.79 L455.08,11.43 L455.44,11.07 L455.81,10.69 L456.18,10.3 L456.54,9.9 L456.91,9.49 L457.27,9.07 L457.64,8.64 L458,8.21 L458.37,7.77 L458.74,7.33 L459.1,6.89 L459.47,6.45 L459.83,6.01 L460.2,5.58 L460.56,5.15 L460.93,4.73 L461.3,4.32 L461.66,3.92 L462.03,3.54 L462.39,3.17 L462.76,2.82 L463.13,2.49 L463.49,2.18 L463.86,1.9 L464.22,1.64 L464.59,1.41 L464.95,1.2 L465.32,1.02 L465.69,0.88 L466.05,0.76 L466.42,0.67 L466.78,0.62 L467.15,0.6 L467.52,0.61 L467.88,0.66 L468.25,0.73 L468.61,0.84 L468.98,0.98 L469.35,1.15 L469.71,1.35 L470.08,1.57 L470.44,1.83 L470.81,2.1 L471.17,2.41 L471.54,2.73 L471.91,3.07 L472.27,3.44 L472.64,3.82 L473,4.21 L473.37,4.62 L473.74,5.03 L474.1,5.46 L474.47,5.89 L474.83,6.33 L475.2,6.77 L475.56,7.21 L475.93,7.65 L476.3,8.09 L476.66,8.52 L477.03,8.95 L477.39,9.37 L477.76,9.79 L478.12,10.19 L478.49,10.58 L478.86,10.97 L479.22,11.34 L479.59,11.69 L479.95,12.04 L480.32,12.37 L480.69,12.68 L481.05,12.99 L481.42,13.27 L481.78,13.55 L482.15,13.81 L482.52,14.05 L482.88,14.28 L483.25,14.5 L483.61,14.7 L483.98,14.89 L484.34,15.07 L484.71,15.23 L485.08,15.39 L485.44,15.53 L485.81,15.66 L486.17,15.78 L486.54,15.89 L486.91,15.99 L487.27,16.08 L487.64,16.17 L488,16.25 L488.37,16.32 L488.73,16.38 L489.1,16.44 Z" fill="#fbdcdd" stroke="none"/>
<path d="M445.2,16.45 L445.57,16.4 L445.93,16.34 L446.3,16.27 L446.66,16.19 L447.03,16.11 L447.39,16.02 L447.76,15.92 L448.13,15.81 L448.49,15.69 L448.86,15.56 L449.22,15.43 L449.59,15.28 L449.96,15.11 L450.32,14.94 L450.69,14.75 L451.05,14.55 L451.42,14.34 L451.78,14.12 L452.15,13.87 L452.52,13.62 L452.88,13.35 L453.25,13.07 L453.61,12.77 L453.98,12.46 L454.35,12.13 L454.71,11.79 L455.08,11.43 L455.44,11.07 L455.81,10.69 L456.18,10.3 L456.54,9.9 L456.91,9.49 L457.27,9.07 L457.64,8.64 L458,8.21 L458.37,7.77 L458.74,7.33 L459.1,6.89 L459.47,6.45 L459.83,6.01 L460.2,5.58 L460.56,5.15 L460.93,4.73 L461.3,4.32 L461.66,3.92 L462.03,3.54 L462.39,3.17 L462.76,2.82 L463.13,2.49 L463.49,2.18 L463.86,1.9 L464.22,1.64 L464.59,1.41 L464.95,1.2 L465.32,1.02 L465.69,0.88 L466.05,0.76 L466.42,0.67 L466.78,0.62 L467.15,0.6 L467.52,0.61 L467.88,0.66 L468.25,0.73 L468.61,0.84 L468.98,0.98 L469.35,1.15 L469.71,1.35 L470.08,1.57 L470.44,1.83 L470.81,2.1 L471.17,2.41 L471.54,2.73 L471.91,3.07 L472.27,3.44 L472.64,3.82 L473,4.21 L473.37,4.62 L473.74,5.03 L474.1,5.46 L474.47,5.89 L474.83,6.33 L475.2,6.77 L475.56,7.21 L475.93,7.65 L476.3,8.09 L476.66,8.52 L477.03,8.95 L477.39,9.37 L477.76,9.79 L478.12,10.19 L478.49,10.58 L478.86,10.97 L479.22,11.34 L479.59,11.69 L479.95,12.04 L480.32,12.37 L480.69,12.68 L481.05,12.99 L481.42,13.27 L481.78,13.55 L482.15,13.81 L482.52,14.05 L482.88,14.28 L483.25,14.5 L483.61,14.7 L483.98,14.89 L484.34,15.07 L484.71,15.23 L485.08,15.39 L485.44,15.53 L485.81,15.66 L486.17,15.78 L486.54,15.89 L486.91,15.99 L487.27,16.08 L487.64,16.17 L488,16.25 L488.37,16.32 L488.73,16.38 L489.1,16.44" fill="none" stroke="#e3131b" stroke-width="1.5" stroke-linejoin="round"/>
<path d="M573.1,16.9 L573.46,16.9 L573.83,16.9 L574.19,16.9 L574.55,16.9 L574.92,16.9 L575.28,16.9 L575.64,16.9 L576.01,16.9 L576.37,16.9 L576.73,16.9 L577.1,16.9 L577.46,16.9 L577.82,16.9 L578.19,16.9 L578.55,16.9 L578.91,16.9 L579.28,16.9 L579.64,16.9 L580,16.9 L580.37,16.9 L580.73,16.9 L581.09,16.9 L581.46,16.9 L581.82,16.9 L582.18,16.9 L582.55,16.9 L582.91,16.9 L583.27,16.9 L583.64,16.9 L584,16.9 L584.36,16.9 L584.73,16.9 L585.09,16.9 L585.45,16.9 L585.82,16.89 L586.18,16.88 L586.54,16.85 L586.91,16.78 L587.27,16.63 L587.63,16.34 L588,15.82 L588.36,15.01 L588.72,13.89 L589.09,12.5 L589.45,11.05 L589.81,9.8 L590.18,9.04 L590.54,8.95 L590.9,9.57 L591.27,10.74 L591.63,12.17 L591.99,13.59 L592.36,14.78 L592.72,15.67 L593.08,16.24 L593.45,16.58 L593.81,16.76 L594.17,16.84 L594.54,16.87 L594.9,16.88 L595.26,16.85 L595.63,16.78 L595.99,16.62 L596.35,16.32 L596.72,15.79 L597.08,14.96 L597.44,13.82 L597.81,12.42 L598.17,10.98 L598.53,9.74 L598.9,9.01 L599.26,8.97 L599.62,9.63 L599.99,10.81 L600.35,12.25 L600.71,13.66 L601.08,14.84 L601.44,15.7 L601.8,16.27 L602.17,16.59 L602.53,16.77 L602.89,16.85 L603.26,16.88 L603.62,16.89 L603.98,16.9 L604.35,16.9 L604.71,16.9 L605.07,16.9 L605.44,16.9 L605.8,16.9 L606.16,16.9 L606.53,16.9 L606.89,16.9 L607.25,16.9 L607.62,16.9 L607.98,16.9 L608.34,16.9 L608.71,16.9 L609.07,16.9 L609.43,16.9 L609.8,16.9 L610.16,16.9 L610.52,16.9 L610.89,16.9 L611.25,16.9 L611.61,16.9 L611.98,16.9 L612.34,16.9 L612.7,16.9 L613.07,16.9 L613.43,16.9 L613.79,16.9 L614.16,16.9 L614.52,16.9 L614.88,16.9 L615.25,16.9 L615.61,16.9 L615.97,16.9 L616.34,16.9 L616.7,16.9 Z" fill="#ffffff" stroke="none"/>
<path d="M573.1,16.9 L573.46,16.9 L573.83,16.9 L574.19,16.9 L574.55,16.9 L574.92,16.9 L575.28,16.9 L575.64,16.9 L576.01,16.9 L576.37,16.9 L576.73,16.9 L577.1,16.9 L577.46,16.9 L577.82,16.9 L578.19,16.9 L578.55,16.9 L578.91,16.9 L579.28,16.9 L579.64,16.9 L580,16.9 L580.37,16.9 L580.73,16.9 L581.09,16.9 L581.46,16.9 L581.82,16.9 L582.18,16.9 L582.55,16.9 L582.91,16.9 L583.27,16.9 L583.64,16.9 L584,16.9 L584.36,16.9 L584.73,16.9 L585.09,16.9 L585.45,16.9 L585.82,16.89 L586.18,16.88 L586.54,16.85 L586.91,16.78 L587.27,16.63 L587.63,16.34 L588,15.82 L588.36,15.01 L588.72,13.89 L589.09,12.5 L589.45,11.05 L589.81,9.8 L590.18,9.04 L590.54,8.95 L590.9,9.57 L591.27,10.74 L591.63,12.17 L591.99,13.59 L592.36,14.78 L592.72,15.67 L593.08,16.24 L593.45,16.58 L593.81,16.76 L594.17,16.84 L594.54,16.87 L594.9,16.88 L595.26,16.85 L595.63,16.78 L595.99,16.62 L596.35,16.32 L596.72,15.79 L597.08,14.96 L597.44,13.82 L597.81,12.42 L598.17,10.98 L598.53,9.74 L598.9,9.01 L599.26,8.97 L599.62,9.63 L599.99,10.81 L600.35,12.25 L600.71,13.66 L601.08,14.84 L601.44,15.7 L601.8,16.27 L602.17,16.59 L602.53,16.77 L602.89,16.85 L603.26,16.88 L603.62,16.89 L603.98,16.9 L604.35,16.9 L604.71,16.9 L605.07,16.9 L605.44,16.9 L605.8,16.9 L606.16,16.9 L606.53,16.9 L606.89,16.9 L607.25,16.9 L607.62,16.9 L607.98,16.9 L608.34,16.9 L608.71,16.9 L609.07,16.9 L609.43,16.9 L609.8,16.9 L610.16,16.9 L610.52,16.9 L610.89,16.9 L611.25,16.9 L611.61,16.9 L611.98,16.9 L612.34,16.9 L612.7,16.9 L613.07,16.9 L613.43,16.9 L613.79,16.9 L614.16,16.9 L614.52,16.9 L614.88,16.9 L615.25,16.9 L615.61,16.9 L615.97,16.9 L616.34,16.9 L616.7,16.9" fill="none" stroke="#111" stroke-width="1.5" stroke-linejoin="round"/>
<path d="M56.8,31.2 Q57.6,29.6 59.1,29.5 L63.8,29.5 M60.5,29.7 L58.7,35.4" stroke="#111" stroke-width="1.05" fill="none" stroke-linecap="round"/>
<line x1="70.5" y1="30.7" x2="80.4" y2="30.7" stroke="#111" stroke-width="0.85"/>
<line x1="70.5" y1="33.5" x2="80.4" y2="33.5" stroke="#111" stroke-width="0.85"/>
<text x="86.37" y="35.8" font-family="Liberation Serif" font-size="14.5" stroke="#111" stroke-width="0.3" fill="#111" textLength="6.2" lengthAdjust="spacingAndGlyphs">6</text>
<text x="99.35" y="35.8" font-family="Liberation Serif" font-size="13.5" stroke="#111" stroke-width="0.3" fill="#111" textLength="10.47" lengthAdjust="spacingAndGlyphs">fs</text>
<path d="M180.7,31.2 Q181.5,29.6 183,29.5 L187.7,29.5 M184.4,29.7 L182.6,35.4" stroke="#111" stroke-width="1.05" fill="none" stroke-linecap="round"/>
<line x1="194.2" y1="30.7" x2="204.2" y2="30.7" stroke="#111" stroke-width="0.85"/>
<line x1="194.2" y1="33.5" x2="204.2" y2="33.5" stroke="#111" stroke-width="0.85"/>
<text x="210.15" y="35.8" font-family="Liberation Serif" font-size="14.5" stroke="#111" stroke-width="0.3" fill="#111" textLength="15.33" lengthAdjust="spacingAndGlyphs">10</text>
<text x="230.64" y="35.8" font-family="Liberation Serif" font-size="13.5" stroke="#111" stroke-width="0.3" fill="#111" textLength="10.69" lengthAdjust="spacingAndGlyphs">fs</text>
<path d="M308.5,31.2 Q309.3,29.6 310.8,29.5 L315.5,29.5 M312.2,29.7 L310.4,35.4" stroke="#111" stroke-width="1.05" fill="none" stroke-linecap="round"/>
<line x1="322.2" y1="30.7" x2="331.7" y2="30.7" stroke="#111" stroke-width="0.85"/>
<line x1="322.2" y1="33.5" x2="331.7" y2="33.5" stroke="#111" stroke-width="0.85"/>
<text x="337.63" y="35.8" font-family="Liberation Serif" font-size="14.5" stroke="#111" stroke-width="0.3" fill="#111" textLength="15.61" lengthAdjust="spacingAndGlyphs">19</text>
<text x="358.34" y="35.8" font-family="Liberation Serif" font-size="13.5" stroke="#111" stroke-width="0.3" fill="#111" textLength="10.69" lengthAdjust="spacingAndGlyphs">fs</text>
<path d="M435.7,31.2 Q436.5,29.6 438,29.5 L442.7,29.5 M439.4,29.7 L437.6,35.4" stroke="#111" stroke-width="1.05" fill="none" stroke-linecap="round"/>
<line x1="449.2" y1="30.7" x2="458.9" y2="30.7" stroke="#111" stroke-width="0.85"/>
<line x1="449.2" y1="33.5" x2="458.9" y2="33.5" stroke="#111" stroke-width="0.85"/>
<text x="465.61" y="35.8" font-family="Liberation Serif" font-size="14.5" stroke="#111" stroke-width="0.3" fill="#111" textLength="15.07" lengthAdjust="spacingAndGlyphs">40</text>
<text x="485.64" y="35.8" font-family="Liberation Serif" font-size="13.5" stroke="#111" stroke-width="0.3" fill="#111" textLength="10.69" lengthAdjust="spacingAndGlyphs">fs</text>
<text x="558.9" y="35.2" font-family="Liberation Serif" font-size="14.5" stroke="#111" stroke-width="0.3" fill="#111" textLength="11.9" lengthAdjust="spacingAndGlyphs">Δ</text>
<text x="571.04" y="35.8" font-family="Liberation Serif" font-size="13.5" font-style="italic" stroke="#111" stroke-width="0.3" fill="#111" textLength="4.81" lengthAdjust="spacingAndGlyphs">t</text>
<line x1="582.9" y1="30.7" x2="592.3" y2="30.7" stroke="#111" stroke-width="0.85"/>
<line x1="582.9" y1="33.5" x2="592.3" y2="33.5" stroke="#111" stroke-width="0.85"/>
<text x="598.21" y="35.8" font-family="Liberation Serif" font-size="14.5" stroke="#111" stroke-width="0.3" fill="#111" textLength="15.79" lengthAdjust="spacingAndGlyphs">18</text>
<text x="619.66" y="35.8" font-family="Liberation Serif" font-size="13.5" stroke="#111" stroke-width="0.3" fill="#111" textLength="10.36" lengthAdjust="spacingAndGlyphs">fs</text>
<clipPath id="cf"><rect x="56.3" y="222.4" width="164" height="99.8"/></clipPath>
<g clip-path="url(#cf)">
<path d="M56.3,321.2 L58.86,321.2 L63.99,321.2 L69.11,320.39 L74.24,315.39 L79.36,303.18 L84.49,292.72 L89.61,277.61 L94.74,256.4 L99.86,235.77 L104.99,231.7 L110.11,234.6 L115.24,249.72 L120.36,274.71 L125.49,295.63 L130.61,310.39 L135.74,316.55 L140.86,319.46 L145.99,320.5 L151.11,320.91 L156.24,321 L161.36,321.08 L166.49,321.09 L171.61,321.1 L176.74,321.12 L181.86,321.13 L186.99,321.14 L192.11,321.15 L197.24,321.16 L202.36,321.17 L207.49,321.18 L212.61,321.19 L217.74,321.2 L220.3,321.2" fill="none" stroke="#111111" stroke-width="1.2" stroke-linejoin="round"/>
<path d="M74.24,314.34V316.44M71.84,314.34H76.64M71.84,316.44H76.64M79.36,302.13V304.23M76.96,302.13H81.76M76.96,304.23H81.76M84.49,291.67V293.77M82.09,291.67H86.89M82.09,293.77H86.89M89.61,276.56V278.66M87.21,276.56H92.01M87.21,278.66H92.01M94.74,255.35V257.45M92.34,255.35H97.14M92.34,257.45H97.14M99.86,234.72V236.82M97.46,234.72H102.26M97.46,236.82H102.26M104.99,230.65V232.75M102.59,230.65H107.39M102.59,232.75H107.39M110.11,233.55V235.65M107.71,233.55H112.51M107.71,235.65H112.51M115.24,248.67V250.77M112.84,248.67H117.64M112.84,250.77H117.64M120.36,273.66V275.76M117.96,273.66H122.76M117.96,275.76H122.76M125.49,294.58V296.68M123.09,294.58H127.89M123.09,296.68H127.89M130.61,309.34V311.44M128.21,309.34H133.01M128.21,311.44H133.01M135.74,315.5V317.6M133.34,315.5H138.14M133.34,317.6H138.14M140.86,318.41V320.51M138.46,318.41H143.26M138.46,320.51H143.26" stroke="#111111" stroke-width="0.9" fill="none"/>
<path d="M56.3,321.2 L58.86,321.2 L63.99,321.2 L69.11,321.2 L74.24,321.2 L79.36,320.62 L84.49,319.46 L89.61,315.68 L94.74,310.16 L99.86,300.98 L104.99,289.82 L110.11,277.03 L115.24,263.08 L120.36,252.62 L125.49,247.97 L130.61,249.13 L135.74,256.69 L140.86,268.89 L145.99,284 L151.11,298.82 L156.24,308.12 L161.36,313.82 L166.49,317.13 L171.61,319.17 L176.74,320.33 L181.86,320.62 L186.99,320.91 L192.11,320.96 L197.24,321.01 L202.36,321.05 L207.49,321.1 L212.61,321.15 L217.74,321.2 L220.3,321.2" fill="none" stroke="#e8161c" stroke-width="1.2" stroke-linejoin="round"/>
<path d="M84.49,318.41V320.51M82.09,318.41H86.89M82.09,320.51H86.89M89.61,314.63V316.73M87.21,314.63H92.01M87.21,316.73H92.01M94.74,309.11V311.21M92.34,309.11H97.14M92.34,311.21H97.14M99.86,299.93V302.03M97.46,299.93H102.26M97.46,302.03H102.26M104.99,288.77V290.87M102.59,288.77H107.39M102.59,290.87H107.39M110.11,275.98V278.08M107.71,275.98H112.51M107.71,278.08H112.51M115.24,262.03V264.13M112.84,262.03H117.64M112.84,264.13H117.64M120.36,251.57V253.67M117.96,251.57H122.76M117.96,253.67H122.76M125.49,246.92V249.02M123.09,246.92H127.89M123.09,249.02H127.89M130.61,248.08V250.18M128.21,248.08H133.01M128.21,250.18H133.01M135.74,255.64V257.74M133.34,255.64H138.14M133.34,257.74H138.14M140.86,267.84V269.94M138.46,267.84H143.26M138.46,269.94H143.26M145.99,282.95V285.05M143.59,282.95H148.39M143.59,285.05H148.39M151.11,297.77V299.87M148.71,297.77H153.51M148.71,299.87H153.51M156.24,307.07V309.17M153.84,307.07H158.64M153.84,309.17H158.64M161.36,312.77V314.87M158.96,312.77H163.76M158.96,314.87H163.76M166.49,316.08V318.18M164.09,316.08H168.89M164.09,318.18H168.89M171.61,318.12V320.22M169.21,318.12H174.01M169.21,320.22H174.01" stroke="#e8161c" stroke-width="0.9" fill="none"/>
<path d="M56.3,321.2 L58.86,321.2 L63.99,321.2 L69.11,321.2 L74.24,321.2 L79.36,320.04 L84.49,315.68 L89.61,306.9 L94.74,296.79 L99.86,286.91 L104.99,279.59 L110.11,271.8 L115.24,267.15 L120.36,264.83 L125.49,263.08 L130.61,263.66 L135.74,268.89 L140.86,277.03 L145.99,288.65 L151.11,298.82 L156.24,307.02 L161.36,312.71 L166.49,315.97 L171.61,318.29 L176.74,319.46 L181.86,320.04 L186.99,320.33 L192.11,320.62 L197.24,320.68 L202.36,320.74 L207.49,320.79 L212.61,320.85 L217.74,320.91 L220.3,320.91" fill="none" stroke="#3aa31a" stroke-width="1.2" stroke-linejoin="round"/>
<path d="M84.49,314.63V316.73M82.09,314.63H86.89M82.09,316.73H86.89M89.61,305.85V307.95M87.21,305.85H92.01M87.21,307.95H92.01M94.74,295.74V297.84M92.34,295.74H97.14M92.34,297.84H97.14M99.86,285.86V287.96M97.46,285.86H102.26M97.46,287.96H102.26M104.99,278.54V280.64M102.59,278.54H107.39M102.59,280.64H107.39M110.11,270.75V272.85M107.71,270.75H112.51M107.71,272.85H112.51M115.24,266.1V268.2M112.84,266.1H117.64M112.84,268.2H117.64M120.36,263.78V265.88M117.96,263.78H122.76M117.96,265.88H122.76M125.49,262.03V264.13M123.09,262.03H127.89M123.09,264.13H127.89M130.61,262.61V264.71M128.21,262.61H133.01M128.21,264.71H133.01M135.74,267.84V269.94M133.34,267.84H138.14M133.34,269.94H138.14M140.86,275.98V278.08M138.46,275.98H143.26M138.46,278.08H143.26M145.99,287.6V289.7M143.59,287.6H148.39M143.59,289.7H148.39M151.11,297.77V299.87M148.71,297.77H153.51M148.71,299.87H153.51M156.24,305.97V308.07M153.84,305.97H158.64M153.84,308.07H158.64M161.36,311.66V313.76M158.96,311.66H163.76M158.96,313.76H163.76M166.49,314.92V317.02M164.09,314.92H168.89M164.09,317.02H168.89M171.61,317.24V319.34M169.21,317.24H174.01M169.21,319.34H174.01M176.74,318.41V320.51M174.34,318.41H179.14M174.34,320.51H179.14" stroke="#3aa31a" stroke-width="0.9" fill="none"/>
<path d="M56.3,321.2 L58.86,321.2 L63.99,321.2 L69.11,321.2 L74.24,321.2 L79.36,321.2 L84.49,320.91 L89.61,320.62 L94.74,320.04 L99.86,319.46 L104.99,317.31 L110.11,316.2 L115.24,313.41 L120.36,309 L125.49,300.51 L130.61,289.82 L135.74,275.29 L140.86,264.24 L145.99,254.95 L151.11,254.36 L156.24,258.43 L161.36,271.22 L166.49,277.03 L171.61,289.47 L176.74,297.95 L181.86,305.86 L186.99,310.74 L192.11,313.41 L197.24,315.68 L202.36,317.13 L207.49,317.71 L212.61,318.29 L217.74,318.88 L220.3,318.88" fill="none" stroke="#1f7bc4" stroke-width="1.2" stroke-linejoin="round"/>
<path d="M99.86,318.41V320.51M97.46,318.41H102.26M97.46,320.51H102.26M104.99,316.26V318.36M102.59,316.26H107.39M102.59,318.36H107.39M110.11,315.15V317.25M107.71,315.15H112.51M107.71,317.25H112.51M115.24,312.36V314.46M112.84,312.36H117.64M112.84,314.46H117.64M120.36,307.95V310.05M117.96,307.95H122.76M117.96,310.05H122.76M125.49,299.46V301.56M123.09,299.46H127.89M123.09,301.56H127.89M130.61,288.77V290.87M128.21,288.77H133.01M128.21,290.87H133.01M135.74,274.24V276.34M133.34,274.24H138.14M133.34,276.34H138.14M140.86,263.19V265.29M138.46,263.19H143.26M138.46,265.29H143.26M145.99,253.9V256M143.59,253.9H148.39M143.59,256H148.39M151.11,253.31V255.41M148.71,253.31H153.51M148.71,255.41H153.51M156.24,257.38V259.48M153.84,257.38H158.64M153.84,259.48H158.64M161.36,270.17V272.27M158.96,270.17H163.76M158.96,272.27H163.76M166.49,275.98V278.08M164.09,275.98H168.89M164.09,278.08H168.89M171.61,288.42V290.52M169.21,288.42H174.01M169.21,290.52H174.01M176.74,296.9V299M174.34,296.9H179.14M174.34,299H179.14M181.86,304.81V306.91M179.46,304.81H184.26M179.46,306.91H184.26M186.99,309.69V311.79M184.59,309.69H189.39M184.59,311.79H189.39M192.11,312.36V314.46M189.71,312.36H194.51M189.71,314.46H194.51M197.24,314.63V316.73M194.84,314.63H199.64M194.84,316.73H199.64M202.36,316.08V318.18M199.96,316.08H204.76M199.96,318.18H204.76M207.49,316.66V318.76M205.09,316.66H209.89M205.09,318.76H209.89M212.61,317.24V319.34M210.21,317.24H215.01M210.21,319.34H215.01M217.74,317.83V319.93M215.34,317.83H220.14M215.34,319.93H220.14" stroke="#1f7bc4" stroke-width="0.9" fill="none"/>
<path d="M56.3,321.2 L58.86,321.2 L63.99,321.2 L69.11,321.2 L74.24,321.2 L79.36,321.2 L84.49,321.2 L89.61,321.2 L94.74,321.2 L99.86,320.62 L104.99,320.04 L110.11,319.46 L115.24,318.47 L120.36,317.31 L125.49,315.68 L130.61,313.41 L135.74,309.23 L140.86,300.51 L145.99,288.07 L151.11,272.38 L156.24,256.11 L161.36,245.65 L166.49,245.65 L171.61,254.36 L176.74,267.15 L181.86,281.1 L186.99,292.32 L192.11,302.2 L197.24,309.23 L202.36,313.41 L207.49,315.97 L212.61,317.71 L217.74,318.88 L220.3,318.88" fill="none" stroke="#8e14ad" stroke-width="1.2" stroke-linejoin="round"/>
<path d="M110.11,318.41V320.51M107.71,318.41H112.51M107.71,320.51H112.51M115.24,317.42V319.52M112.84,317.42H117.64M112.84,319.52H117.64M120.36,316.26V318.36M117.96,316.26H122.76M117.96,318.36H122.76M125.49,314.63V316.73M123.09,314.63H127.89M123.09,316.73H127.89M130.61,312.36V314.46M128.21,312.36H133.01M128.21,314.46H133.01M135.74,308.18V310.28M133.34,308.18H138.14M133.34,310.28H138.14M140.86,299.46V301.56M138.46,299.46H143.26M138.46,301.56H143.26M145.99,287.02V289.12M143.59,287.02H148.39M143.59,289.12H148.39M151.11,271.33V273.43M148.71,271.33H153.51M148.71,273.43H153.51M156.24,255.06V257.16M153.84,255.06H158.64M153.84,257.16H158.64M161.36,244.6V246.7M158.96,244.6H163.76M158.96,246.7H163.76M166.49,244.6V246.7M164.09,244.6H168.89M164.09,246.7H168.89M171.61,253.31V255.41M169.21,253.31H174.01M169.21,255.41H174.01M176.74,266.1V268.2M174.34,266.1H179.14M174.34,268.2H179.14M181.86,280.05V282.15M179.46,280.05H184.26M179.46,282.15H184.26M186.99,291.27V293.37M184.59,291.27H189.39M184.59,293.37H189.39M192.11,301.15V303.25M189.71,301.15H194.51M189.71,303.25H194.51M197.24,308.18V310.28M194.84,308.18H199.64M194.84,310.28H199.64M202.36,312.36V314.46M199.96,312.36H204.76M199.96,314.46H204.76M207.49,314.92V317.02M205.09,314.92H209.89M205.09,317.02H209.89M212.61,316.66V318.76M210.21,316.66H215.01M210.21,318.76H215.01M217.74,317.83V319.93M215.34,317.83H220.14M215.34,319.93H220.14" stroke="#8e14ad" stroke-width="0.9" fill="none"/>
</g>
<rect x="56.3" y="222.4" width="164" height="98.8" fill="none" stroke="#8f8f8f" stroke-width="0.9"/>
<line x1="66.55" y1="321.2" x2="66.55" y2="319.6" stroke="#555" stroke-width="0.8"/>
<line x1="66.55" y1="222.4" x2="66.55" y2="224" stroke="#555" stroke-width="0.8"/>
<text x="60.03" y="336.3" font-family="Liberation Sans" font-size="11" fill="#262626" textLength="12.63" lengthAdjust="spacing"> 0</text><path transform="translate(60.03 336.3) scale(0.00537 -0.00537)" d="M515,0L515,1237L197,1010L197,1180L530,1409L696,1409L696,0Z" fill="#262626"/>
<line x1="117.8" y1="321.2" x2="117.8" y2="319.6" stroke="#555" stroke-width="0.8"/>
<line x1="117.8" y1="222.4" x2="117.8" y2="224" stroke="#555" stroke-width="0.8"/>
<text x="111.42" y="336.3" font-family="Liberation Sans" font-size="11" fill="#262626" textLength="12.64" lengthAdjust="spacing">20</text>
<line x1="169.05" y1="321.2" x2="169.05" y2="319.6" stroke="#555" stroke-width="0.8"/>
<line x1="169.05" y1="222.4" x2="169.05" y2="224" stroke="#555" stroke-width="0.8"/>
<text x="162.73" y="336.3" font-family="Liberation Sans" font-size="11" fill="#262626" textLength="12.65" lengthAdjust="spacing">30</text>
<line x1="220.3" y1="321.2" x2="220.3" y2="319.6" stroke="#555" stroke-width="0.8"/>
<line x1="220.3" y1="222.4" x2="220.3" y2="224" stroke="#555" stroke-width="0.8"/>
<text x="214.06" y="336.3" font-family="Liberation Sans" font-size="11" fill="#262626" textLength="12.66" lengthAdjust="spacing">40</text>
<line x1="56.3" y1="321.2" x2="57.9" y2="321.2" stroke="#555" stroke-width="0.8"/>
<line x1="220.3" y1="321.2" x2="218.7" y2="321.2" stroke="#555" stroke-width="0.8"/>
<text x="45.81" y="325.64" font-family="Liberation Sans" font-size="11" fill="#262626" textLength="6.34" lengthAdjust="spacingAndGlyphs">0</text>
<line x1="56.3" y1="292.14" x2="57.9" y2="292.14" stroke="#555" stroke-width="0.8"/>
<line x1="220.3" y1="292.14" x2="218.7" y2="292.14" stroke="#555" stroke-width="0.8"/>
<text x="30.01" y="296.58" font-family="Liberation Sans" font-size="11" fill="#262626" textLength="22.16" lengthAdjust="spacing">0.05</text>
<line x1="56.3" y1="263.08" x2="57.9" y2="263.08" stroke="#555" stroke-width="0.8"/>
<line x1="220.3" y1="263.08" x2="218.7" y2="263.08" stroke="#555" stroke-width="0.8"/>
<text x="36.42" y="267.52" font-family="Liberation Sans" font-size="11" fill="#262626" textLength="15.81" lengthAdjust="spacing">0. </text><path transform="translate(46.12 267.52) scale(0.00537 -0.00537)" d="M515,0L515,1237L197,1010L197,1180L530,1409L696,1409L696,0Z" fill="#262626"/>
<line x1="56.3" y1="234.02" x2="57.9" y2="234.02" stroke="#555" stroke-width="0.8"/>
<line x1="220.3" y1="234.02" x2="218.7" y2="234.02" stroke="#555" stroke-width="0.8"/>
<text x="30.01" y="238.46" font-family="Liberation Sans" font-size="11" fill="#262626" textLength="22.16" lengthAdjust="spacing">0. 5</text><path transform="translate(39.68 238.46) scale(0.00537 -0.00537)" d="M515,0L515,1237L197,1010L197,1180L530,1409L696,1409L696,0Z" fill="#262626"/>
<text x="65.14" y="242.6" font-family="Liberation Sans" font-size="16" font-weight="bold" fill="#000" textLength="5.03" lengthAdjust="spacingAndGlyphs">f</text>
<clipPath id="cg"><rect x="262.9" y="222.4" width="164.4" height="99.8"/></clipPath>
<g clip-path="url(#cg)">
<path d="M262.9,320.94 L267.47,320.87 L276.6,320.87 L285.73,320.54 L294.87,319.88 L304,318.24 L313.13,314.28 L322.27,311.98 L331.4,307.04 L340.53,301.11 L349.67,297.98 L358.8,295.84 L367.93,296.83 L377.07,297.49 L386.2,298.15 L395.33,300.78 L404.47,301.11 L413.6,301.11 L422.73,301.11" fill="none" stroke="#8e14ad" stroke-width="1.2" stroke-linejoin="round"/>
<path d="M422.73,300.01V302.21M420.53,300.01H424.93M420.53,302.21H424.93" stroke="#8e14ad" stroke-width="0.9" fill="none"/>
<path d="M261.95,319.99h1.9v1.9h-1.9zM266.52,319.92h1.9v1.9h-1.9zM275.65,319.92h1.9v1.9h-1.9zM284.78,319.59h1.9v1.9h-1.9zM293.92,318.93h1.9v1.9h-1.9zM303.05,317.29h1.9v1.9h-1.9zM312.18,313.33h1.9v1.9h-1.9zM321.32,311.03h1.9v1.9h-1.9zM330.45,306.09h1.9v1.9h-1.9zM339.58,300.16h1.9v1.9h-1.9zM348.72,297.03h1.9v1.9h-1.9zM357.85,294.89h1.9v1.9h-1.9zM366.98,295.88h1.9v1.9h-1.9zM376.12,296.54h1.9v1.9h-1.9zM385.25,297.2h1.9v1.9h-1.9zM394.38,299.83h1.9v1.9h-1.9zM403.52,300.16h1.9v1.9h-1.9zM412.65,300.16h1.9v1.9h-1.9zM421.78,300.16h1.9v1.9h-1.9z" fill="#8e14ad"/>
<path d="M262.9,319.88 L267.47,319.55 L276.6,318.89 L285.73,317.91 L294.87,316.92 L304,315.6 L313.13,314.28 L322.27,313.3 L331.4,312.97 L340.53,311.98 L349.67,310 L358.8,307.37 L367.93,303.09 L377.07,298.48 L386.2,292.88 L395.33,285.3 L404.47,274.43 L413.6,264.55 L422.73,250.39" fill="none" stroke="#111111" stroke-width="1.2" stroke-linejoin="round"/>
<path d="M404.47,273.83V275.03M402.27,273.83H406.67M402.27,275.03H406.67M413.6,263.75V265.35M411.4,263.75H415.8M411.4,265.35H415.8M422.73,249.19V251.59M420.53,249.19H424.93M420.53,251.59H424.93" stroke="#111111" stroke-width="0.9" fill="none"/>
<path d="M261.95,318.93h1.9v1.9h-1.9zM266.52,318.6h1.9v1.9h-1.9zM275.65,317.94h1.9v1.9h-1.9zM284.78,316.96h1.9v1.9h-1.9zM293.92,315.97h1.9v1.9h-1.9zM303.05,314.65h1.9v1.9h-1.9zM312.18,313.33h1.9v1.9h-1.9zM321.32,312.35h1.9v1.9h-1.9zM330.45,312.02h1.9v1.9h-1.9zM339.58,311.03h1.9v1.9h-1.9zM348.72,309.05h1.9v1.9h-1.9zM357.85,306.42h1.9v1.9h-1.9zM366.98,302.14h1.9v1.9h-1.9zM376.12,297.53h1.9v1.9h-1.9zM385.25,291.93h1.9v1.9h-1.9zM394.38,284.35h1.9v1.9h-1.9zM403.52,273.48h1.9v1.9h-1.9zM412.65,263.6h1.9v1.9h-1.9zM421.78,249.44h1.9v1.9h-1.9z" fill="#111111"/>
<path d="M262.9,320.41 L267.47,320.21 L276.6,319.88 L285.73,319.22 L294.87,318.24 L304,316.92 L313.13,315.27 L322.27,313.3 L331.4,311.98 L340.53,310.33 L349.67,308.69 L358.8,305.72 L367.93,301.77 L377.07,297.49 L386.2,289.91 L395.33,281.35 L404.47,266.86 L413.6,261.59 L422.73,255.66" fill="none" stroke="#3aa31a" stroke-width="1.2" stroke-linejoin="round"/>
<path d="M404.47,266.06V267.66M402.27,266.06H406.67M402.27,267.66H406.67M413.6,260.59V262.59M411.4,260.59H415.8M411.4,262.59H415.8M422.73,254.26V257.06M420.53,254.26H424.93M420.53,257.06H424.93" stroke="#3aa31a" stroke-width="0.9" fill="none"/>
<path d="M261.95,319.46h1.9v1.9h-1.9zM266.52,319.26h1.9v1.9h-1.9zM275.65,318.93h1.9v1.9h-1.9zM284.78,318.27h1.9v1.9h-1.9zM293.92,317.29h1.9v1.9h-1.9zM303.05,315.97h1.9v1.9h-1.9zM312.18,314.32h1.9v1.9h-1.9zM321.32,312.35h1.9v1.9h-1.9zM330.45,311.03h1.9v1.9h-1.9zM339.58,309.38h1.9v1.9h-1.9zM348.72,307.74h1.9v1.9h-1.9zM357.85,304.77h1.9v1.9h-1.9zM366.98,300.82h1.9v1.9h-1.9zM376.12,296.54h1.9v1.9h-1.9zM385.25,288.96h1.9v1.9h-1.9zM394.38,280.4h1.9v1.9h-1.9zM403.52,265.91h1.9v1.9h-1.9zM412.65,260.64h1.9v1.9h-1.9zM421.78,254.71h1.9v1.9h-1.9z" fill="#3aa31a"/>
<path d="M262.9,320.94 L267.47,320.87 L276.6,320.54 L285.73,319.88 L294.87,318.89 L304,317.58 L313.13,314.61 L322.27,312.97 L331.4,310.66 L340.53,308.36 L349.67,305.39 L358.8,302.76 L367.93,299.46 L377.07,295.84 L386.2,289.91 L395.33,283.66 L404.47,267.85 L413.6,257.64 L422.73,245.12" fill="none" stroke="#1f7bc4" stroke-width="1.2" stroke-linejoin="round"/>
<path d="M395.33,282.86V284.46M393.13,282.86H397.53M393.13,284.46H397.53M404.47,266.85V268.85M402.27,266.85H406.67M402.27,268.85H406.67M413.6,256.24V259.04M411.4,256.24H415.8M411.4,259.04H415.8M422.73,242.92V247.32M420.53,242.92H424.93M420.53,247.32H424.93" stroke="#1f7bc4" stroke-width="0.9" fill="none"/>
<path d="M261.95,319.99h1.9v1.9h-1.9zM266.52,319.92h1.9v1.9h-1.9zM275.65,319.59h1.9v1.9h-1.9zM284.78,318.93h1.9v1.9h-1.9zM293.92,317.94h1.9v1.9h-1.9zM303.05,316.63h1.9v1.9h-1.9zM312.18,313.66h1.9v1.9h-1.9zM321.32,312.02h1.9v1.9h-1.9zM330.45,309.71h1.9v1.9h-1.9zM339.58,307.41h1.9v1.9h-1.9zM348.72,304.44h1.9v1.9h-1.9zM357.85,301.81h1.9v1.9h-1.9zM366.98,298.51h1.9v1.9h-1.9zM376.12,294.89h1.9v1.9h-1.9zM385.25,288.96h1.9v1.9h-1.9zM394.38,282.71h1.9v1.9h-1.9zM403.52,266.9h1.9v1.9h-1.9zM412.65,256.69h1.9v1.9h-1.9zM421.78,244.17h1.9v1.9h-1.9z" fill="#1f7bc4"/>
<path d="M262.9,320.67 L267.47,320.54 L276.6,320.21 L285.73,319.55 L294.87,318.57 L304,317.25 L313.13,315.27 L322.27,313.3 L331.4,312.31 L340.53,310.99 L349.67,308.03 L358.8,304.73 L367.93,301.11 L377.07,297.49 L386.2,292.22 L395.33,282.01 L404.47,264.55 L413.6,244.79 L422.73,228.33" fill="none" stroke="#e8161c" stroke-width="1.2" stroke-linejoin="round"/>
<path d="M395.33,281.21V282.81M393.13,281.21H397.53M393.13,282.81H397.53M404.47,263.55V265.55M402.27,263.55H406.67M402.27,265.55H406.67M413.6,243.59V245.99M411.4,243.59H415.8M411.4,245.99H415.8M422.73,226.73V229.93M420.53,226.73H424.93M420.53,229.93H424.93" stroke="#e8161c" stroke-width="0.9" fill="none"/>
<path d="M261.95,319.72h1.9v1.9h-1.9zM266.52,319.59h1.9v1.9h-1.9zM275.65,319.26h1.9v1.9h-1.9zM284.78,318.6h1.9v1.9h-1.9zM293.92,317.62h1.9v1.9h-1.9zM303.05,316.3h1.9v1.9h-1.9zM312.18,314.32h1.9v1.9h-1.9zM321.32,312.35h1.9v1.9h-1.9zM330.45,311.36h1.9v1.9h-1.9zM339.58,310.04h1.9v1.9h-1.9zM348.72,307.08h1.9v1.9h-1.9zM357.85,303.78h1.9v1.9h-1.9zM366.98,300.16h1.9v1.9h-1.9zM376.12,296.54h1.9v1.9h-1.9zM385.25,291.27h1.9v1.9h-1.9zM394.38,281.06h1.9v1.9h-1.9zM403.52,263.6h1.9v1.9h-1.9zM412.65,243.84h1.9v1.9h-1.9zM421.78,227.38h1.9v1.9h-1.9z" fill="#e8161c"/>
</g>
<rect x="262.9" y="222.4" width="164.4" height="98.8" fill="none" stroke="#8f8f8f" stroke-width="0.9"/>
<line x1="281.17" y1="321.2" x2="281.17" y2="319.6" stroke="#555" stroke-width="0.8"/>
<line x1="281.17" y1="222.4" x2="281.17" y2="224" stroke="#555" stroke-width="0.8"/>
<text x="271.48" y="336.3" font-family="Liberation Sans" font-size="11" fill="#262626" textLength="18.97" lengthAdjust="spacing"> 00</text><path transform="translate(271.48 336.3) scale(0.00537 -0.00537)" d="M515,0L515,1237L197,1010L197,1180L530,1409L696,1409L696,0Z" fill="#262626"/>
<line x1="317.7" y1="321.2" x2="317.7" y2="319.6" stroke="#555" stroke-width="0.8"/>
<line x1="317.7" y1="222.4" x2="317.7" y2="224" stroke="#555" stroke-width="0.8"/>
<text x="308.01" y="336.3" font-family="Liberation Sans" font-size="11" fill="#262626" textLength="18.97" lengthAdjust="spacing"> 20</text><path transform="translate(308.01 336.3) scale(0.00537 -0.00537)" d="M515,0L515,1237L197,1010L197,1180L530,1409L696,1409L696,0Z" fill="#262626"/>
<line x1="354.23" y1="321.2" x2="354.23" y2="319.6" stroke="#555" stroke-width="0.8"/>
<line x1="354.23" y1="222.4" x2="354.23" y2="224" stroke="#555" stroke-width="0.8"/>
<text x="344.54" y="336.3" font-family="Liberation Sans" font-size="11" fill="#262626" textLength="18.97" lengthAdjust="spacing"> 40</text><path transform="translate(344.54 336.3) scale(0.00537 -0.00537)" d="M515,0L515,1237L197,1010L197,1180L530,1409L696,1409L696,0Z" fill="#262626"/>
<line x1="390.77" y1="321.2" x2="390.77" y2="319.6" stroke="#555" stroke-width="0.8"/>
<line x1="390.77" y1="222.4" x2="390.77" y2="224" stroke="#555" stroke-width="0.8"/>
<text x="381.08" y="336.3" font-family="Liberation Sans" font-size="11" fill="#262626" textLength="18.97" lengthAdjust="spacing"> 60</text><path transform="translate(381.08 336.3) scale(0.00537 -0.00537)" d="M515,0L515,1237L197,1010L197,1180L530,1409L696,1409L696,0Z" fill="#262626"/>
<line x1="427.3" y1="321.2" x2="427.3" y2="319.6" stroke="#555" stroke-width="0.8"/>
<line x1="427.3" y1="222.4" x2="427.3" y2="224" stroke="#555" stroke-width="0.8"/>
<text x="417.61" y="336.3" font-family="Liberation Sans" font-size="11" fill="#262626" textLength="18.97" lengthAdjust="spacing"> 80</text><path transform="translate(417.61 336.3) scale(0.00537 -0.00537)" d="M515,0L515,1237L197,1010L197,1180L530,1409L696,1409L696,0Z" fill="#262626"/>
<line x1="262.9" y1="321.2" x2="264.5" y2="321.2" stroke="#555" stroke-width="0.8"/>
<line x1="427.3" y1="321.2" x2="425.7" y2="321.2" stroke="#555" stroke-width="0.8"/>
<text x="252.41" y="325.64" font-family="Liberation Sans" font-size="11" fill="#262626" textLength="6.34" lengthAdjust="spacingAndGlyphs">0</text>
<line x1="262.9" y1="288.27" x2="264.5" y2="288.27" stroke="#555" stroke-width="0.8"/>
<line x1="427.3" y1="288.27" x2="425.7" y2="288.27" stroke="#555" stroke-width="0.8"/>
<text x="243.02" y="292.71" font-family="Liberation Sans" font-size="11" fill="#262626" textLength="15.81" lengthAdjust="spacing">0. </text><path transform="translate(252.72 292.71) scale(0.00537 -0.00537)" d="M515,0L515,1237L197,1010L197,1180L530,1409L696,1409L696,0Z" fill="#262626"/>
<line x1="262.9" y1="255.33" x2="264.5" y2="255.33" stroke="#555" stroke-width="0.8"/>
<line x1="427.3" y1="255.33" x2="425.7" y2="255.33" stroke="#555" stroke-width="0.8"/>
<text x="243.04" y="259.77" font-family="Liberation Sans" font-size="11" fill="#262626" textLength="15.81" lengthAdjust="spacing">0.2</text>
<line x1="262.9" y1="222.4" x2="264.5" y2="222.4" stroke="#555" stroke-width="0.8"/>
<line x1="427.3" y1="222.4" x2="425.7" y2="222.4" stroke="#555" stroke-width="0.8"/>
<text x="242.97" y="226.84" font-family="Liberation Sans" font-size="11" fill="#262626" textLength="15.81" lengthAdjust="spacing">0.3</text>
<text x="393.65" y="242.6" font-family="Liberation Sans" font-size="16" font-weight="bold" fill="#000" textLength="11.17" lengthAdjust="spacingAndGlyphs">g</text>
<rect x="278.7" y="229.3" width="54.4" height="64.8" fill="#fff" stroke="#666" stroke-width="0.8"/>
<line x1="289.3" y1="229.3" x2="289.3" y2="294.1" stroke="#dedede" stroke-width="0.7" stroke-dasharray="1.3,0.7"/>
<line x1="311.9" y1="229.3" x2="311.9" y2="294.1" stroke="#dedede" stroke-width="0.7" stroke-dasharray="1.3,0.7"/>
<line x1="278.7" y1="240.7" x2="333.1" y2="240.7" stroke="#dedede" stroke-width="0.7" stroke-dasharray="1.3,0.7"/>
<line x1="278.7" y1="240.7" x2="279.9" y2="240.7" stroke="#555" stroke-width="0.7"/>
<line x1="278.7" y1="262.2" x2="333.1" y2="262.2" stroke="#dedede" stroke-width="0.7" stroke-dasharray="1.3,0.7"/>
<line x1="278.7" y1="262.2" x2="279.9" y2="262.2" stroke="#555" stroke-width="0.7"/>
<line x1="278.7" y1="284.2" x2="333.1" y2="284.2" stroke="#dedede" stroke-width="0.7" stroke-dasharray="1.3,0.7"/>
<line x1="278.7" y1="284.2" x2="279.9" y2="284.2" stroke="#555" stroke-width="0.7"/>
<rect x="283" y="258.8" width="26.5" height="6.8" fill="#dcbce8" fill-opacity="0.6" filter="url(#fb2p2_2p0)"/>
<rect x="287" y="260.6" width="21" height="3.2" fill="#a848c8" fill-opacity="0.7" filter="url(#fb1p8_1p2)"/>
<ellipse cx="319.4" cy="236.8" rx="5.5" ry="3.2" fill="#d6b0e4" fill-opacity="0.5" filter="url(#fb1p2)" transform="rotate(25 319.4 236.8)"/>
<ellipse cx="319.4" cy="236.8" rx="4.3" ry="2" fill="#72008e" fill-opacity="0.9" filter="url(#fb0p7)" transform="rotate(25 319.4 236.8)"/>
<ellipse cx="319.4" cy="287.6" rx="5.5" ry="3.2" fill="#d6b0e4" fill-opacity="0.5" filter="url(#fb1p2)" transform="rotate(-25 319.4 287.6)"/>
<ellipse cx="319.4" cy="287.6" rx="4.3" ry="2" fill="#72008e" fill-opacity="0.9" filter="url(#fb0p7)" transform="rotate(-25 319.4 287.6)"/>
<rect x="326.5" y="249" width="8" height="23" fill="#fff"/>
<path d="M310,262.1 L318.2,241.6 M310,262.1 L318.2,281.6" stroke="#111" stroke-width="0.8" fill="none"/>
<path d="M318.6,240.4 L315.7,244.2 L318.7,245.0 Z M318.6,282.8 L315.7,279 L318.7,278.2 Z" fill="#111"/>
<path d="M317.2,250.6 A13,13 0 0 1 317.2,273.6" stroke="#111" stroke-width="0.9" fill="none"/>
<text x="329.24" y="265.6" font-family="Liberation Serif" font-size="13" font-style="italic" stroke="#262626" stroke-width="0.3" fill="#262626" textLength="7.29" lengthAdjust="spacingAndGlyphs">β</text>
<g transform="translate(273 268.9) rotate(-90)"><text x="0.83" y="0" font-family="Liberation Serif" font-size="10.5" font-style="italic" stroke="#262626" stroke-width="0.3" fill="#262626" textLength="4.54" lengthAdjust="spacingAndGlyphs">p</text><text x="6.19" y="1.2" font-family="Liberation Serif" font-size="7.5" font-style="italic" stroke="#262626" stroke-width="0.3" fill="#262626" textLength="2.61" lengthAdjust="spacingAndGlyphs">y</text><text x="9.62" y="2.2" font-family="Liberation Serif" font-size="5.5" stroke="#262626" stroke-width="0.3" fill="#262626" textLength="2.94" lengthAdjust="spacingAndGlyphs">m</text></g>
<text x="299.3" y="304.5" font-family="Liberation Serif" font-size="10.5" font-style="italic" stroke="#262626" stroke-width="0.3" fill="#262626" textLength="4.26" lengthAdjust="spacingAndGlyphs">p</text>
<text x="304.78" y="305.4" font-family="Liberation Serif" font-size="7.5" font-style="italic" stroke="#262626" stroke-width="0.3" fill="#262626" textLength="2.61" lengthAdjust="spacingAndGlyphs">z</text>
<text x="308" y="307.3" font-family="Liberation Serif" font-size="5.5" stroke="#262626" stroke-width="0.3" fill="#262626" textLength="3.67" lengthAdjust="spacingAndGlyphs">m</text>
<path d="M479.65,229.81 L493.36,255.33 L507.07,282.09 L520.78,301.03 L534.49,311.73 L548.2,316.67 L561.9,316.26 L575.61,311.32 L589.32,300.2 L603.03,282.5 L616.74,254.92 L630.45,228.58" fill="none" stroke="#e8161c" stroke-width="1.2" stroke-linejoin="round"/>
<path d="M479.65,228.06V231.56M477.25,228.06H482.05M477.25,231.56H482.05M493.36,253.58V257.08M490.96,253.58H495.76M490.96,257.08H495.76M507.07,280.34V283.84M504.67,280.34H509.47M504.67,283.84H509.47M520.78,299.28V302.78M518.38,299.28H523.18M518.38,302.78H523.18M534.49,309.98V313.48M532.09,309.98H536.89M532.09,313.48H536.89M548.2,314.92V318.42M545.8,314.92H550.6M545.8,318.42H550.6M561.9,314.51V318.01M559.5,314.51H564.3M559.5,318.01H564.3M575.61,309.57V313.07M573.21,309.57H578.01M573.21,313.07H578.01M589.32,298.45V301.95M586.92,298.45H591.72M586.92,301.95H591.72M603.03,280.75V284.25M600.63,280.75H605.43M600.63,284.25H605.43M616.74,253.17V256.67M614.34,253.17H619.14M614.34,256.67H619.14M630.45,226.83V230.33M628.05,226.83H632.85M628.05,230.33H632.85" stroke="#e8161c" stroke-width="0.9" fill="none"/>
<path d="M479.65,248.34 L493.36,269.74 L507.07,282.5 L520.78,298.15 L534.49,308.03 L548.2,312.97 L561.9,312.56 L575.61,307.62 L589.32,297.32 L603.03,283.33 L616.74,269.74 L630.45,249.16" fill="none" stroke="#3aa31a" stroke-width="1.2" stroke-linejoin="round"/>
<path d="M479.65,247.34V249.34M477.25,247.34H482.05M477.25,249.34H482.05M493.36,268.74V270.74M490.96,268.74H495.76M490.96,270.74H495.76M507.07,281.5V283.5M504.67,281.5H509.47M504.67,283.5H509.47M520.78,297.15V299.15M518.38,297.15H523.18M518.38,299.15H523.18M534.49,307.03V309.03M532.09,307.03H536.89M532.09,309.03H536.89M548.2,311.97V313.97M545.8,311.97H550.6M545.8,313.97H550.6M561.9,311.56V313.56M559.5,311.56H564.3M559.5,313.56H564.3M575.61,306.62V308.62M573.21,306.62H578.01M573.21,308.62H578.01M589.32,296.32V298.32M586.92,296.32H591.72M586.92,298.32H591.72M603.03,282.33V284.33M600.63,282.33H605.43M600.63,284.33H605.43M616.74,268.74V270.74M614.34,268.74H619.14M614.34,270.74H619.14M630.45,248.16V250.16M628.05,248.16H632.85M628.05,250.16H632.85" stroke="#3aa31a" stroke-width="0.9" fill="none"/>
<path d="M478.15,246.84h3v3h-3zM491.86,268.24h3v3h-3zM505.57,281h3v3h-3zM519.28,296.65h3v3h-3zM532.99,306.53h3v3h-3zM546.7,311.47h3v3h-3zM560.4,311.06h3v3h-3zM574.11,306.12h3v3h-3zM587.82,295.82h3v3h-3zM601.53,281.83h3v3h-3zM615.24,268.24h3v3h-3zM628.95,247.66h3v3h-3z" fill="#3aa31a"/>
<path d="M479.65,280.44 L493.36,289.5 L507.07,291.15 L520.78,295.68 L534.49,301.44 L548.2,305.14 L561.9,304.73 L575.61,301.85 L589.32,295.68 L603.03,291.56 L616.74,288.27 L630.45,283.74" fill="none" stroke="#1f7bc4" stroke-width="1.2" stroke-linejoin="round"/>
<path d="M479.65,278.5V282.39M477.25,278.5H482.05M477.25,282.39H482.05M493.36,287.55V291.45M490.96,287.55H495.76M490.96,291.45H495.76M507.07,289.2V293.1M504.67,289.2H509.47M504.67,293.1H509.47M520.78,293.73V297.63M518.38,293.73H523.18M518.38,297.63H523.18M534.49,299.49V303.39M532.09,299.49H536.89M532.09,303.39H536.89M548.2,303.19V307.09M545.8,303.19H550.6M545.8,307.09H550.6M561.9,302.78V306.68M559.5,302.78H564.3M559.5,306.68H564.3M575.61,299.9V303.8M573.21,299.9H578.01M573.21,303.8H578.01M589.32,293.73V297.63M586.92,293.73H591.72M586.92,297.63H591.72M603.03,289.61V293.51M600.63,289.61H605.43M600.63,293.51H605.43M616.74,286.32V290.22M614.34,286.32H619.14M614.34,290.22H619.14M630.45,281.79V285.69M628.05,281.79H632.85M628.05,285.69H632.85" stroke="#1f7bc4" stroke-width="0.9" fill="none"/>
<path d="M479.65,287.44 L493.36,291.15 L507.07,292.38 L520.78,296.5 L534.49,302.26 L548.2,303.91 L561.9,303.91 L575.61,302.26 L589.32,295.68 L603.03,292.38 L616.74,292.38 L630.45,291.56" fill="none" stroke="#8e14ad" stroke-width="1.2" stroke-linejoin="round"/>
<path d="M479.65,286.44V288.44M477.25,286.44H482.05M477.25,288.44H482.05M493.36,290.15V292.15M490.96,290.15H495.76M490.96,292.15H495.76M507.07,291.38V293.38M504.67,291.38H509.47M504.67,293.38H509.47M520.78,295.5V297.5M518.38,295.5H523.18M518.38,297.5H523.18M534.49,301.26V303.26M532.09,301.26H536.89M532.09,303.26H536.89M548.2,302.91V304.91M545.8,302.91H550.6M545.8,304.91H550.6M561.9,302.91V304.91M559.5,302.91H564.3M559.5,304.91H564.3M575.61,301.26V303.26M573.21,301.26H578.01M573.21,303.26H578.01M589.32,294.68V296.68M586.92,294.68H591.72M586.92,296.68H591.72M603.03,291.38V293.38M600.63,291.38H605.43M600.63,293.38H605.43M616.74,291.38V293.38M614.34,291.38H619.14M614.34,293.38H619.14M630.45,290.56V292.56M628.05,290.56H632.85M628.05,292.56H632.85" stroke="#8e14ad" stroke-width="0.9" fill="none"/>
<path d="M478.55,286.34h2.2v2.2h-2.2zM492.26,290.05h2.2v2.2h-2.2zM505.97,291.28h2.2v2.2h-2.2zM519.68,295.4h2.2v2.2h-2.2zM533.39,301.16h2.2v2.2h-2.2zM547.1,302.81h2.2v2.2h-2.2zM560.8,302.81h2.2v2.2h-2.2zM574.51,301.16h2.2v2.2h-2.2zM588.22,294.58h2.2v2.2h-2.2zM601.93,291.28h2.2v2.2h-2.2zM615.64,291.28h2.2v2.2h-2.2zM629.35,290.46h2.2v2.2h-2.2z" fill="#8e14ad"/>
<path d="M479.65,291.15 L493.36,291.15 L507.07,291.15 L520.78,294.85 L534.49,302.26 L548.2,308.03 L561.9,307.62 L575.61,301.85 L589.32,294.85 L603.03,290.32 L616.74,290.32 L630.45,291.56" fill="none" stroke="#111111" stroke-width="1.2" stroke-linejoin="round"/>
<path d="M479.65,290.25V292.05M477.25,290.25H482.05M477.25,292.05H482.05M493.36,290.25V292.05M490.96,290.25H495.76M490.96,292.05H495.76M507.07,290.25V292.05M504.67,290.25H509.47M504.67,292.05H509.47M520.78,293.95V295.75M518.38,293.95H523.18M518.38,295.75H523.18M534.49,301.36V303.16M532.09,301.36H536.89M532.09,303.16H536.89M548.2,307.13V308.93M545.8,307.13H550.6M545.8,308.93H550.6M561.9,306.72V308.51M559.5,306.72H564.3M559.5,308.51H564.3M575.61,300.95V302.75M573.21,300.95H578.01M573.21,302.75H578.01M589.32,293.95V295.75M586.92,293.95H591.72M586.92,295.75H591.72M603.03,289.43V291.22M600.63,289.43H605.43M600.63,291.22H605.43M616.74,289.43V291.22M614.34,289.43H619.14M614.34,291.22H619.14M630.45,290.66V292.46M628.05,290.66H632.85M628.05,292.46H632.85" stroke="#111111" stroke-width="0.9" fill="none"/>
<path d="M478.35,289.85h2.6v2.6h-2.6zM492.06,289.85h2.6v2.6h-2.6zM505.77,289.85h2.6v2.6h-2.6zM519.48,293.55h2.6v2.6h-2.6zM533.19,300.96h2.6v2.6h-2.6zM546.9,306.73h2.6v2.6h-2.6zM560.6,306.31h2.6v2.6h-2.6zM574.31,300.55h2.6v2.6h-2.6zM588.02,293.55h2.6v2.6h-2.6zM601.73,289.02h2.6v2.6h-2.6zM615.44,289.02h2.6v2.6h-2.6zM629.15,290.26h2.6v2.6h-2.6z" fill="#111111"/>
<rect x="472.8" y="222.4" width="164.5" height="98.8" fill="none" stroke="#8f8f8f" stroke-width="0.9"/>
<line x1="472.8" y1="321.2" x2="472.8" y2="319.6" stroke="#555" stroke-width="0.8"/>
<line x1="472.8" y1="222.4" x2="472.8" y2="224" stroke="#555" stroke-width="0.8"/>
<text x="469.63" y="336.3" font-family="Liberation Sans" font-size="11" fill="#262626" textLength="6.34" lengthAdjust="spacingAndGlyphs">0</text>
<line x1="513.92" y1="321.2" x2="513.92" y2="319.6" stroke="#555" stroke-width="0.8"/>
<line x1="513.92" y1="222.4" x2="513.92" y2="224" stroke="#555" stroke-width="0.8"/>
<text x="507.7" y="336.3" font-family="Liberation Sans" font-size="11" fill="#262626" textLength="12.65" lengthAdjust="spacing">45</text>
<line x1="555.05" y1="321.2" x2="555.05" y2="319.6" stroke="#555" stroke-width="0.8"/>
<line x1="555.05" y1="222.4" x2="555.05" y2="224" stroke="#555" stroke-width="0.8"/>
<text x="548.68" y="336.3" font-family="Liberation Sans" font-size="11" fill="#262626" textLength="12.65" lengthAdjust="spacing">90</text>
<line x1="596.17" y1="321.2" x2="596.17" y2="319.6" stroke="#555" stroke-width="0.8"/>
<line x1="596.17" y1="222.4" x2="596.17" y2="224" stroke="#555" stroke-width="0.8"/>
<text x="586.5" y="336.3" font-family="Liberation Sans" font-size="11" fill="#262626" textLength="18.97" lengthAdjust="spacing"> 35</text><path transform="translate(586.5 336.3) scale(0.00537 -0.00537)" d="M515,0L515,1237L197,1010L197,1180L530,1409L696,1409L696,0Z" fill="#262626"/>
<line x1="637.3" y1="321.2" x2="637.3" y2="319.6" stroke="#555" stroke-width="0.8"/>
<line x1="637.3" y1="222.4" x2="637.3" y2="224" stroke="#555" stroke-width="0.8"/>
<text x="627.61" y="336.3" font-family="Liberation Sans" font-size="11" fill="#262626" textLength="18.97" lengthAdjust="spacing"> 80</text><path transform="translate(627.61 336.3) scale(0.00537 -0.00537)" d="M515,0L515,1237L197,1010L197,1180L530,1409L696,1409L696,0Z" fill="#262626"/>
<line x1="472.8" y1="321.2" x2="474.4" y2="321.2" stroke="#555" stroke-width="0.8"/>
<line x1="637.3" y1="321.2" x2="635.7" y2="321.2" stroke="#555" stroke-width="0.8"/>
<text x="462.31" y="325.64" font-family="Liberation Sans" font-size="11" fill="#262626" textLength="6.34" lengthAdjust="spacingAndGlyphs">0</text>
<line x1="472.8" y1="280.03" x2="474.4" y2="280.03" stroke="#555" stroke-width="0.8"/>
<line x1="637.3" y1="280.03" x2="635.7" y2="280.03" stroke="#555" stroke-width="0.8"/>
<text x="446.58" y="284.47" font-family="Liberation Sans" font-size="11" fill="#262626" textLength="22.15" lengthAdjust="spacing">0.0 </text><path transform="translate(462.62 284.47) scale(0.00537 -0.00537)" d="M515,0L515,1237L197,1010L197,1180L530,1409L696,1409L696,0Z" fill="#262626"/>
<line x1="472.8" y1="238.87" x2="474.4" y2="238.87" stroke="#555" stroke-width="0.8"/>
<line x1="637.3" y1="238.87" x2="635.7" y2="238.87" stroke="#555" stroke-width="0.8"/>
<text x="446.6" y="243.31" font-family="Liberation Sans" font-size="11" fill="#262626" textLength="22.15" lengthAdjust="spacing">0.02</text>
<text x="603.55" y="242.6" font-family="Liberation Sans" font-size="16" font-weight="bold" fill="#000" textLength="10.07" lengthAdjust="spacingAndGlyphs">h</text>
<rect x="535.6" y="235.1" width="40.8" height="41.2" fill="#fff" stroke="#555" stroke-width="0.8"/>
<ellipse cx="555.5" cy="255.8" rx="18.6" ry="19.2" fill="url(#ringh)"/>
<clipPath id="hcirc"><ellipse cx="555.5" cy="255.8" rx="18.6" ry="19.2"/></clipPath>
<g clip-path="url(#hcirc)"><ellipse cx="555.5" cy="255.8" rx="17.2" ry="17.8" fill="none" stroke="url(#ringv)" stroke-width="4.6" filter="url(#fb0p9)"/></g>
<rect x="569.5" y="227" width="11" height="15" fill="#fff"/>
<path d="M556.6,255.2 L571.2,249.2" stroke="#111" stroke-width="0.9"/>
<path d="M572.6,248.6 L568.2,248.3 L569.3,251.0 Z" fill="#111"/>
<path d="M556.6,242.7 A12.5,12.5 0 0 1 566.2,247.2" stroke="#111" stroke-width="0.9" fill="none"/>
<text x="572.45" y="237.5" font-family="Liberation Serif" font-size="13" font-style="italic" stroke="#262626" stroke-width="0.3" fill="#262626" textLength="6.57" lengthAdjust="spacingAndGlyphs">θ</text>
<text x="548.94" y="288.4" font-family="Liberation Serif" font-size="12" font-style="italic" stroke="#262626" stroke-width="0.3" fill="#262626" textLength="3.58" lengthAdjust="spacingAndGlyphs">ϵ</text>
<text x="554.27" y="289.5" font-family="Liberation Serif" font-size="8.5" font-style="italic" stroke="#262626" stroke-width="0.3" fill="#262626" textLength="2.51" lengthAdjust="spacingAndGlyphs">z</text>
<text x="558" y="291.3" font-family="Liberation Serif" font-size="6.5" stroke="#262626" stroke-width="0.3" fill="#262626" textLength="3.78" lengthAdjust="spacingAndGlyphs">m</text>
<g transform="translate(528.6 263.5) rotate(-90)"><text x="-0" y="0" font-family="Liberation Serif" font-size="12" font-style="italic" stroke="#262626" stroke-width="0.3" fill="#262626" textLength="4.08" lengthAdjust="spacingAndGlyphs">ϵ</text><text x="5.63" y="1.6" font-family="Liberation Serif" font-size="8.5" font-style="italic" stroke="#262626" stroke-width="0.3" fill="#262626" textLength="3.36" lengthAdjust="spacingAndGlyphs">y</text><text x="9.8" y="2.5" font-family="Liberation Serif" font-size="6.5" stroke="#262626" stroke-width="0.3" fill="#262626" textLength="3.57" lengthAdjust="spacingAndGlyphs">m</text></g>
<text x="106.77" y="217.6" font-family="Liberation Serif" font-size="12.5" stroke="#111" stroke-width="0.3" fill="#111" textLength="8.18" lengthAdjust="spacingAndGlyphs">D</text>
<line x1="116.05" y1="211.5" x2="120.65" y2="211.5" stroke="#333" stroke-width="0.65"/>
<line x1="118.35" y1="209.2" x2="118.35" y2="213.8" stroke="#333" stroke-width="0.65"/>
<line x1="123.9" y1="220.1" x2="128.6" y2="208.9" stroke="#111" stroke-width="0.7"/>
<text x="129.56" y="217.6" font-family="Liberation Serif" font-size="12.5" stroke="#111" stroke-width="0.3" fill="#111" textLength="8.4" lengthAdjust="spacingAndGlyphs">D</text>
<line x1="139.05" y1="211.5" x2="143.65" y2="211.5" stroke="#333" stroke-width="0.65"/>
<line x1="141.35" y1="209.2" x2="141.35" y2="213.8" stroke="#333" stroke-width="0.65"/>
<line x1="147.4" y1="220.1" x2="151.9" y2="208.9" stroke="#111" stroke-width="0.7"/>
<text x="152.87" y="217.6" font-family="Liberation Serif" font-size="12.5" stroke="#111" stroke-width="0.3" fill="#111" textLength="9.25" lengthAdjust="spacingAndGlyphs">O</text>
<line x1="163.4" y1="211.5" x2="168" y2="211.5" stroke="#333" stroke-width="0.65"/>
<line x1="165.7" y1="209.2" x2="165.7" y2="213.8" stroke="#333" stroke-width="0.65"/>
<text x="313.57" y="217.6" font-family="Liberation Serif" font-size="12.5" stroke="#111" stroke-width="0.3" fill="#111" textLength="8.18" lengthAdjust="spacingAndGlyphs">D</text>
<line x1="322.85" y1="211.5" x2="327.45" y2="211.5" stroke="#333" stroke-width="0.65"/>
<line x1="325.15" y1="209.2" x2="325.15" y2="213.8" stroke="#333" stroke-width="0.65"/>
<line x1="330.7" y1="220.1" x2="335.4" y2="208.9" stroke="#111" stroke-width="0.7"/>
<text x="336.36" y="217.6" font-family="Liberation Serif" font-size="12.5" stroke="#111" stroke-width="0.3" fill="#111" textLength="8.4" lengthAdjust="spacingAndGlyphs">D</text>
<line x1="345.85" y1="211.5" x2="350.45" y2="211.5" stroke="#333" stroke-width="0.65"/>
<line x1="348.15" y1="209.2" x2="348.15" y2="213.8" stroke="#333" stroke-width="0.65"/>
<line x1="354.2" y1="220.1" x2="358.7" y2="208.9" stroke="#111" stroke-width="0.7"/>
<text x="359.67" y="217.6" font-family="Liberation Serif" font-size="12.5" stroke="#111" stroke-width="0.3" fill="#111" textLength="9.25" lengthAdjust="spacingAndGlyphs">O</text>
<line x1="370.2" y1="211.5" x2="374.8" y2="211.5" stroke="#333" stroke-width="0.65"/>
<line x1="372.5" y1="209.2" x2="372.5" y2="213.8" stroke="#333" stroke-width="0.65"/>
<text x="523.52" y="217.6" font-family="Liberation Serif" font-size="12.5" stroke="#111" stroke-width="0.3" fill="#111" textLength="8.18" lengthAdjust="spacingAndGlyphs">D</text>
<line x1="532.8" y1="211.5" x2="537.4" y2="211.5" stroke="#333" stroke-width="0.65"/>
<line x1="535.1" y1="209.2" x2="535.1" y2="213.8" stroke="#333" stroke-width="0.65"/>
<line x1="540.65" y1="220.1" x2="545.35" y2="208.9" stroke="#111" stroke-width="0.7"/>
<text x="546.31" y="217.6" font-family="Liberation Serif" font-size="12.5" stroke="#111" stroke-width="0.3" fill="#111" textLength="8.4" lengthAdjust="spacingAndGlyphs">D</text>
<line x1="555.8" y1="211.5" x2="560.4" y2="211.5" stroke="#333" stroke-width="0.65"/>
<line x1="558.1" y1="209.2" x2="558.1" y2="213.8" stroke="#333" stroke-width="0.65"/>
<line x1="564.15" y1="220.1" x2="568.65" y2="208.9" stroke="#111" stroke-width="0.7"/>
<text x="569.62" y="217.6" font-family="Liberation Serif" font-size="12.5" stroke="#111" stroke-width="0.3" fill="#111" textLength="9.25" lengthAdjust="spacingAndGlyphs">O</text>
<line x1="580.15" y1="211.5" x2="584.75" y2="211.5" stroke="#333" stroke-width="0.65"/>
<line x1="582.45" y1="209.2" x2="582.45" y2="213.8" stroke="#333" stroke-width="0.65"/>
<text x="107.88" y="351.2" font-family="Liberation Serif" font-size="13.4" stroke="#262626" stroke-width="0.3" fill="#262626" textLength="29.14" lengthAdjust="spacingAndGlyphs">KER</text>
<text x="142.42" y="351.2" font-family="Liberation Serif" font-size="13.4" stroke="#262626" stroke-width="0.3" fill="#262626" textLength="4.41" lengthAdjust="spacingAndGlyphs">(</text>
<text x="147.46" y="351.2" font-family="Liberation Serif" font-size="13.4" stroke="#262626" stroke-width="0.3" fill="#262626" textLength="15.99" lengthAdjust="spacingAndGlyphs">eV</text>
<text x="164.04" y="351.2" font-family="Liberation Serif" font-size="13.4" stroke="#262626" stroke-width="0.3" fill="#262626" textLength="3.76" lengthAdjust="spacingAndGlyphs">)</text>
<text x="323.45" y="351.2" font-family="Liberation Serif" font-size="13.4" font-style="italic" stroke="#262626" stroke-width="0.3" fill="#262626" textLength="7.58" lengthAdjust="spacingAndGlyphs">β</text>
<text x="336.28" y="351.2" font-family="Liberation Serif" font-size="13.4" stroke="#262626" stroke-width="0.3" fill="#262626" textLength="4.67" lengthAdjust="spacingAndGlyphs">(</text>
<text x="340.97" y="351.2" font-family="Liberation Serif" font-size="13.4" stroke="#262626" stroke-width="0.3" fill="#262626" textLength="21" lengthAdjust="spacingAndGlyphs">deg</text>
<text x="362.7" y="351.2" font-family="Liberation Serif" font-size="13.4" stroke="#262626" stroke-width="0.3" fill="#262626" textLength="4.15" lengthAdjust="spacingAndGlyphs">)</text>
<text x="533.32" y="351.2" font-family="Liberation Serif" font-size="13.4" font-style="italic" stroke="#262626" stroke-width="0.3" fill="#262626" textLength="6.8" lengthAdjust="spacingAndGlyphs">θ</text>
<text x="545.95" y="351.2" font-family="Liberation Serif" font-size="13.4" stroke="#262626" stroke-width="0.3" fill="#262626" textLength="4.15" lengthAdjust="spacingAndGlyphs">(</text>
<text x="550.58" y="351.2" font-family="Liberation Serif" font-size="13.4" stroke="#262626" stroke-width="0.3" fill="#262626" textLength="20.69" lengthAdjust="spacingAndGlyphs">deg</text>
<text x="571.6" y="351.2" font-family="Liberation Serif" font-size="13.4" stroke="#262626" stroke-width="0.3" fill="#262626" textLength="4.15" lengthAdjust="spacingAndGlyphs">)</text>
<g transform="translate(24.2 302.6) rotate(-90)"><text x="-0.05" y="0" font-family="Liberation Serif" font-size="12" stroke="#262626" stroke-width="0.3" fill="#262626" textLength="61.5" lengthAdjust="spacingAndGlyphs">Norm. Yield</text></g></svg>
</body></html>
